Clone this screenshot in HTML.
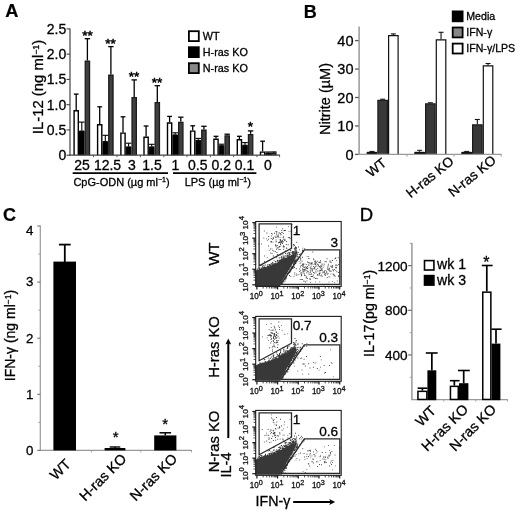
<!DOCTYPE html>
<html><head><meta charset="utf-8"><title>Figure</title>
<style>
html,body{margin:0;padding:0;background:#fff;}
body{width:520px;height:512px;overflow:hidden;font-family:"Liberation Sans",sans-serif;}
svg{display:block;filter:blur(0.35px);}
svg text{font-family:"Liberation Sans",sans-serif;}
</style></head><body>
<svg width="520" height="512" viewBox="0 0 520 512">
<rect x="0" y="0" width="520" height="512" fill="#fff"/>
<text x="5.20" y="16.80" font-size="18.2" text-anchor="start" font-weight="bold" fill="#000" stroke="#000" stroke-width="0.2">A</text>
<line x1="70.00" y1="28.40" x2="70.00" y2="155.20" stroke="#444" stroke-width="1.2" stroke-linecap="butt"/>
<line x1="66.50" y1="28.90" x2="70.00" y2="28.90" stroke="#444" stroke-width="1.1" stroke-linecap="butt"/>
<text x="66.20" y="33.80" font-size="14" text-anchor="end" font-weight="normal" fill="#000" stroke="#000" stroke-width="0.3">2.5</text>
<line x1="66.50" y1="54.16" x2="70.00" y2="54.16" stroke="#444" stroke-width="1.1" stroke-linecap="butt"/>
<text x="66.20" y="59.06" font-size="14" text-anchor="end" font-weight="normal" fill="#000" stroke="#000" stroke-width="0.3">2.0</text>
<line x1="66.50" y1="79.42" x2="70.00" y2="79.42" stroke="#444" stroke-width="1.1" stroke-linecap="butt"/>
<text x="66.20" y="84.32" font-size="14" text-anchor="end" font-weight="normal" fill="#000" stroke="#000" stroke-width="0.3">1.5</text>
<line x1="66.50" y1="104.68" x2="70.00" y2="104.68" stroke="#444" stroke-width="1.1" stroke-linecap="butt"/>
<text x="66.20" y="109.58" font-size="14" text-anchor="end" font-weight="normal" fill="#000" stroke="#000" stroke-width="0.3">1.0</text>
<line x1="66.50" y1="129.94" x2="70.00" y2="129.94" stroke="#444" stroke-width="1.1" stroke-linecap="butt"/>
<text x="66.20" y="134.84" font-size="14" text-anchor="end" font-weight="normal" fill="#000" stroke="#000" stroke-width="0.3">0.5</text>
<line x1="66.50" y1="155.20" x2="70.00" y2="155.20" stroke="#444" stroke-width="1.1" stroke-linecap="butt"/>
<text x="66.20" y="160.10" font-size="14" text-anchor="end" font-weight="normal" fill="#000" stroke="#000" stroke-width="0.3">0</text>
<text x="42.60" y="87.00" font-size="14.9" text-anchor="middle" font-weight="normal" fill="#000" stroke="#000" stroke-width="0.3" transform="rotate(-90 42.60 87.00)">IL-12 (ng ml<tspan font-size="8.8" dy="-4">−1</tspan><tspan dy="4">)</tspan></text>
<line x1="76.20" y1="110.00" x2="76.20" y2="94.10" stroke="#000" stroke-width="1.3" stroke-linecap="butt"/>
<line x1="73.80" y1="94.10" x2="78.60" y2="94.10" stroke="#000" stroke-width="1.3" stroke-linecap="butt"/>
<line x1="81.80" y1="130.50" x2="81.80" y2="122.10" stroke="#000" stroke-width="1.1" stroke-linecap="butt"/>
<line x1="79.00" y1="122.10" x2="84.60" y2="122.10" stroke="#000" stroke-width="1.1" stroke-linecap="butt"/>
<line x1="87.40" y1="60.60" x2="87.40" y2="38.70" stroke="#000" stroke-width="1.3" stroke-linecap="butt"/>
<line x1="84.70" y1="38.70" x2="90.10" y2="38.70" stroke="#000" stroke-width="1.3" stroke-linecap="butt"/>
<path d="M74.10 155.20V110.70H78.30V155.20" fill="#fff" stroke="#000" stroke-width="1.4"/>
<path d="M79.50 155.20V131.00H84.10V155.20" fill="#000" stroke="#000" stroke-width="1.0"/>
<path d="M85.25 155.20V61.25H89.55V155.20" fill="#404040" stroke="#1c1c1c" stroke-width="1.3"/>
<line x1="99.70" y1="124.00" x2="99.70" y2="106.80" stroke="#000" stroke-width="1.3" stroke-linecap="butt"/>
<line x1="97.30" y1="106.80" x2="102.10" y2="106.80" stroke="#000" stroke-width="1.3" stroke-linecap="butt"/>
<line x1="105.30" y1="141.10" x2="105.30" y2="135.30" stroke="#000" stroke-width="1.1" stroke-linecap="butt"/>
<line x1="102.50" y1="135.30" x2="108.10" y2="135.30" stroke="#000" stroke-width="1.1" stroke-linecap="butt"/>
<line x1="110.90" y1="74.60" x2="110.90" y2="46.60" stroke="#000" stroke-width="1.3" stroke-linecap="butt"/>
<line x1="108.20" y1="46.60" x2="113.60" y2="46.60" stroke="#000" stroke-width="1.3" stroke-linecap="butt"/>
<path d="M97.60 155.20V124.70H101.80V155.20" fill="#fff" stroke="#000" stroke-width="1.4"/>
<path d="M103.00 155.20V141.60H107.60V155.20" fill="#000" stroke="#000" stroke-width="1.0"/>
<path d="M108.75 155.20V75.25H113.05V155.20" fill="#404040" stroke="#1c1c1c" stroke-width="1.3"/>
<line x1="123.00" y1="132.40" x2="123.00" y2="116.80" stroke="#000" stroke-width="1.3" stroke-linecap="butt"/>
<line x1="120.60" y1="116.80" x2="125.40" y2="116.80" stroke="#000" stroke-width="1.3" stroke-linecap="butt"/>
<line x1="128.60" y1="146.40" x2="128.60" y2="143.20" stroke="#000" stroke-width="1.1" stroke-linecap="butt"/>
<line x1="125.80" y1="143.20" x2="131.40" y2="143.20" stroke="#000" stroke-width="1.1" stroke-linecap="butt"/>
<line x1="134.20" y1="97.00" x2="134.20" y2="79.90" stroke="#000" stroke-width="1.3" stroke-linecap="butt"/>
<line x1="131.50" y1="79.90" x2="136.90" y2="79.90" stroke="#000" stroke-width="1.3" stroke-linecap="butt"/>
<path d="M120.90 155.20V133.10H125.10V155.20" fill="#fff" stroke="#000" stroke-width="1.4"/>
<path d="M126.30 155.20V146.90H130.90V155.20" fill="#000" stroke="#000" stroke-width="1.0"/>
<path d="M132.05 155.20V97.65H136.35V155.20" fill="#404040" stroke="#1c1c1c" stroke-width="1.3"/>
<line x1="146.10" y1="136.60" x2="146.10" y2="126.00" stroke="#000" stroke-width="1.3" stroke-linecap="butt"/>
<line x1="143.70" y1="126.00" x2="148.50" y2="126.00" stroke="#000" stroke-width="1.3" stroke-linecap="butt"/>
<line x1="151.70" y1="146.40" x2="151.70" y2="144.30" stroke="#000" stroke-width="1.1" stroke-linecap="butt"/>
<line x1="148.90" y1="144.30" x2="154.50" y2="144.30" stroke="#000" stroke-width="1.1" stroke-linecap="butt"/>
<line x1="157.30" y1="102.00" x2="157.30" y2="85.70" stroke="#000" stroke-width="1.3" stroke-linecap="butt"/>
<line x1="154.60" y1="85.70" x2="160.00" y2="85.70" stroke="#000" stroke-width="1.3" stroke-linecap="butt"/>
<path d="M144.00 155.20V137.30H148.20V155.20" fill="#fff" stroke="#000" stroke-width="1.4"/>
<path d="M149.40 155.20V146.90H154.00V155.20" fill="#000" stroke="#000" stroke-width="1.0"/>
<path d="M155.15 155.20V102.65H159.45V155.20" fill="#404040" stroke="#1c1c1c" stroke-width="1.3"/>
<line x1="169.60" y1="122.30" x2="169.60" y2="116.40" stroke="#000" stroke-width="1.3" stroke-linecap="butt"/>
<line x1="167.20" y1="116.40" x2="172.00" y2="116.40" stroke="#000" stroke-width="1.3" stroke-linecap="butt"/>
<line x1="175.20" y1="134.40" x2="175.20" y2="132.80" stroke="#000" stroke-width="1.1" stroke-linecap="butt"/>
<line x1="172.40" y1="132.80" x2="178.00" y2="132.80" stroke="#000" stroke-width="1.1" stroke-linecap="butt"/>
<line x1="180.80" y1="121.80" x2="180.80" y2="117.20" stroke="#000" stroke-width="1.3" stroke-linecap="butt"/>
<line x1="178.10" y1="117.20" x2="183.50" y2="117.20" stroke="#000" stroke-width="1.3" stroke-linecap="butt"/>
<path d="M167.50 155.20V123.00H171.70V155.20" fill="#fff" stroke="#000" stroke-width="1.4"/>
<path d="M172.90 155.20V134.90H177.50V155.20" fill="#000" stroke="#000" stroke-width="1.0"/>
<path d="M178.65 155.20V122.45H182.95V155.20" fill="#404040" stroke="#1c1c1c" stroke-width="1.3"/>
<line x1="192.70" y1="130.40" x2="192.70" y2="125.80" stroke="#000" stroke-width="1.3" stroke-linecap="butt"/>
<line x1="190.30" y1="125.80" x2="195.10" y2="125.80" stroke="#000" stroke-width="1.3" stroke-linecap="butt"/>
<line x1="198.30" y1="139.80" x2="198.30" y2="138.40" stroke="#000" stroke-width="1.1" stroke-linecap="butt"/>
<line x1="195.50" y1="138.40" x2="201.10" y2="138.40" stroke="#000" stroke-width="1.1" stroke-linecap="butt"/>
<line x1="203.90" y1="129.60" x2="203.90" y2="126.30" stroke="#000" stroke-width="1.3" stroke-linecap="butt"/>
<line x1="201.20" y1="126.30" x2="206.60" y2="126.30" stroke="#000" stroke-width="1.3" stroke-linecap="butt"/>
<path d="M190.60 155.20V131.10H194.80V155.20" fill="#fff" stroke="#000" stroke-width="1.4"/>
<path d="M196.00 155.20V140.30H200.60V155.20" fill="#000" stroke="#000" stroke-width="1.0"/>
<path d="M201.75 155.20V130.25H206.05V155.20" fill="#404040" stroke="#1c1c1c" stroke-width="1.3"/>
<line x1="216.00" y1="138.50" x2="216.00" y2="136.30" stroke="#000" stroke-width="1.3" stroke-linecap="butt"/>
<line x1="213.60" y1="136.30" x2="218.40" y2="136.30" stroke="#000" stroke-width="1.3" stroke-linecap="butt"/>
<line x1="221.60" y1="145.20" x2="221.60" y2="144.20" stroke="#000" stroke-width="1.1" stroke-linecap="butt"/>
<line x1="218.80" y1="144.20" x2="224.40" y2="144.20" stroke="#000" stroke-width="1.1" stroke-linecap="butt"/>
<line x1="227.20" y1="135.20" x2="227.20" y2="134.20" stroke="#000" stroke-width="1.3" stroke-linecap="butt"/>
<line x1="224.50" y1="134.20" x2="229.90" y2="134.20" stroke="#000" stroke-width="1.3" stroke-linecap="butt"/>
<path d="M213.90 155.20V139.20H218.10V155.20" fill="#fff" stroke="#000" stroke-width="1.4"/>
<path d="M219.30 155.20V145.70H223.90V155.20" fill="#000" stroke="#000" stroke-width="1.0"/>
<path d="M225.05 155.20V135.85H229.35V155.20" fill="#404040" stroke="#1c1c1c" stroke-width="1.3"/>
<line x1="239.40" y1="139.00" x2="239.40" y2="136.30" stroke="#000" stroke-width="1.3" stroke-linecap="butt"/>
<line x1="237.00" y1="136.30" x2="241.80" y2="136.30" stroke="#000" stroke-width="1.3" stroke-linecap="butt"/>
<line x1="245.00" y1="144.70" x2="245.00" y2="142.60" stroke="#000" stroke-width="1.1" stroke-linecap="butt"/>
<line x1="242.20" y1="142.60" x2="247.80" y2="142.60" stroke="#000" stroke-width="1.1" stroke-linecap="butt"/>
<line x1="250.60" y1="133.90" x2="250.60" y2="130.90" stroke="#000" stroke-width="1.3" stroke-linecap="butt"/>
<line x1="247.90" y1="130.90" x2="253.30" y2="130.90" stroke="#000" stroke-width="1.3" stroke-linecap="butt"/>
<path d="M237.30 155.20V139.70H241.50V155.20" fill="#fff" stroke="#000" stroke-width="1.4"/>
<path d="M242.70 155.20V145.20H247.30V155.20" fill="#000" stroke="#000" stroke-width="1.0"/>
<path d="M248.45 155.20V134.55H252.75V155.20" fill="#404040" stroke="#1c1c1c" stroke-width="1.3"/>
<line x1="262.60" y1="151.40" x2="262.60" y2="141.20" stroke="#000" stroke-width="1.3" stroke-linecap="butt"/>
<line x1="260.20" y1="141.20" x2="265.00" y2="141.20" stroke="#000" stroke-width="1.3" stroke-linecap="butt"/>
<line x1="268.20" y1="152.60" x2="268.20" y2="152.00" stroke="#000" stroke-width="1.1" stroke-linecap="butt"/>
<line x1="265.40" y1="152.00" x2="271.00" y2="152.00" stroke="#000" stroke-width="1.1" stroke-linecap="butt"/>
<line x1="273.80" y1="152.60" x2="273.80" y2="152.00" stroke="#000" stroke-width="1.3" stroke-linecap="butt"/>
<line x1="271.10" y1="152.00" x2="276.50" y2="152.00" stroke="#000" stroke-width="1.3" stroke-linecap="butt"/>
<path d="M260.50 155.20V152.10H264.70V155.20" fill="#fff" stroke="#000" stroke-width="1.4"/>
<path d="M265.90 155.20V153.10H270.50V155.20" fill="#000" stroke="#000" stroke-width="1.0"/>
<path d="M271.65 155.20V153.25H275.95V155.20" fill="#404040" stroke="#1c1c1c" stroke-width="1.3"/>
<line x1="69.40" y1="155.20" x2="280.00" y2="155.20" stroke="#444" stroke-width="1.3" stroke-linecap="butt"/>
<line x1="93.50" y1="155.20" x2="93.50" y2="157.20" stroke="#444" stroke-width="0.9" stroke-linecap="butt"/>
<line x1="117.00" y1="155.20" x2="117.00" y2="157.20" stroke="#444" stroke-width="0.9" stroke-linecap="butt"/>
<line x1="140.40" y1="155.20" x2="140.40" y2="157.20" stroke="#444" stroke-width="0.9" stroke-linecap="butt"/>
<line x1="163.80" y1="155.20" x2="163.80" y2="157.20" stroke="#444" stroke-width="0.9" stroke-linecap="butt"/>
<line x1="187.00" y1="155.20" x2="187.00" y2="157.20" stroke="#444" stroke-width="0.9" stroke-linecap="butt"/>
<line x1="210.40" y1="155.20" x2="210.40" y2="157.20" stroke="#444" stroke-width="0.9" stroke-linecap="butt"/>
<line x1="233.60" y1="155.20" x2="233.60" y2="157.20" stroke="#444" stroke-width="0.9" stroke-linecap="butt"/>
<line x1="257.00" y1="155.20" x2="257.00" y2="157.20" stroke="#444" stroke-width="0.9" stroke-linecap="butt"/>
<line x1="279.60" y1="155.20" x2="279.60" y2="157.20" stroke="#444" stroke-width="0.9" stroke-linecap="butt"/>
<text x="87.60" y="40.00" font-size="13.6" text-anchor="middle" font-weight="normal" fill="#000" stroke="#000" stroke-width="0.5">**</text>
<text x="110.60" y="48.00" font-size="13.6" text-anchor="middle" font-weight="normal" fill="#000" stroke="#000" stroke-width="0.5">**</text>
<text x="134.00" y="80.50" font-size="13.6" text-anchor="middle" font-weight="normal" fill="#000" stroke="#000" stroke-width="0.5">**</text>
<text x="157.00" y="86.50" font-size="13.6" text-anchor="middle" font-weight="normal" fill="#000" stroke="#000" stroke-width="0.5">**</text>
<text x="250.30" y="131.00" font-size="13.6" text-anchor="middle" font-weight="normal" fill="#000" stroke="#000" stroke-width="0.5">*</text>
<text x="82.00" y="169.60" font-size="14" text-anchor="middle" font-weight="normal" fill="#000" stroke="#000" stroke-width="0.3">25</text>
<text x="107.50" y="169.60" font-size="14" text-anchor="middle" font-weight="normal" fill="#000" stroke="#000" stroke-width="0.3">12.5</text>
<text x="131.80" y="169.60" font-size="14" text-anchor="middle" font-weight="normal" fill="#000" stroke="#000" stroke-width="0.3">3</text>
<text x="152.00" y="169.60" font-size="14" text-anchor="middle" font-weight="normal" fill="#000" stroke="#000" stroke-width="0.3">1.5</text>
<text x="175.30" y="169.60" font-size="14" text-anchor="middle" font-weight="normal" fill="#000" stroke="#000" stroke-width="0.3">1</text>
<text x="197.70" y="169.60" font-size="14" text-anchor="middle" font-weight="normal" fill="#000" stroke="#000" stroke-width="0.3">0.5</text>
<text x="221.20" y="169.60" font-size="14" text-anchor="middle" font-weight="normal" fill="#000" stroke="#000" stroke-width="0.3">0.2</text>
<text x="244.50" y="169.60" font-size="14" text-anchor="middle" font-weight="normal" fill="#000" stroke="#000" stroke-width="0.3">0.1</text>
<text x="268.00" y="169.60" font-size="14" text-anchor="middle" font-weight="normal" fill="#000" stroke="#000" stroke-width="0.3">0</text>
<line x1="72.70" y1="173.20" x2="168.00" y2="173.20" stroke="#000" stroke-width="1.8" stroke-linecap="butt"/>
<line x1="173.00" y1="173.20" x2="256.40" y2="173.20" stroke="#000" stroke-width="1.8" stroke-linecap="butt"/>
<text x="121.50" y="185.80" font-size="11" text-anchor="middle" font-weight="normal" fill="#000" stroke="#000" stroke-width="0.3">CpG-ODN (µg ml<tspan font-size="7" dy="-4">−1</tspan><tspan dy="4">)</tspan></text>
<text x="217.80" y="185.80" font-size="11" text-anchor="middle" font-weight="normal" fill="#000" stroke="#000" stroke-width="0.3">LPS (µg ml<tspan font-size="7" dy="-4">−1</tspan><tspan dy="4">)</tspan></text>
<rect x="188.90" y="31.20" width="9.90" height="9.90" fill="#fff" stroke="#000" stroke-width="1.8"/>
<text x="202.80" y="40.00" font-size="10.8" text-anchor="start" font-weight="normal" fill="#000" stroke="#000" stroke-width="0.3">WT</text>
<rect x="188.90" y="47.20" width="9.90" height="9.90" fill="#000" stroke="#000" stroke-width="1.8"/>
<text x="202.80" y="56.00" font-size="10.8" text-anchor="start" font-weight="normal" fill="#000" stroke="#000" stroke-width="0.3">H-ras KO</text>
<rect x="188.90" y="63.20" width="9.90" height="9.90" fill="#888" stroke="#000" stroke-width="1.8"/>
<text x="202.80" y="72.00" font-size="10.8" text-anchor="start" font-weight="normal" fill="#000" stroke="#000" stroke-width="0.3">N-ras KO</text>
<text x="303.70" y="17.60" font-size="18" text-anchor="start" font-weight="bold" fill="#000" stroke="#000" stroke-width="0.2">B</text>
<line x1="359.10" y1="26.50" x2="359.10" y2="154.40" stroke="#999" stroke-width="1.5" stroke-linecap="butt"/>
<line x1="355.10" y1="154.40" x2="358.60" y2="154.40" stroke="#555" stroke-width="1.3" stroke-linecap="butt"/>
<text x="353.50" y="159.60" font-size="14.5" text-anchor="end" font-weight="normal" fill="#000" stroke="#000" stroke-width="0.3">0</text>
<line x1="355.10" y1="125.95" x2="358.60" y2="125.95" stroke="#555" stroke-width="1.3" stroke-linecap="butt"/>
<text x="353.50" y="131.15" font-size="14.5" text-anchor="end" font-weight="normal" fill="#000" stroke="#000" stroke-width="0.3">10</text>
<line x1="355.10" y1="97.50" x2="358.60" y2="97.50" stroke="#555" stroke-width="1.3" stroke-linecap="butt"/>
<text x="353.50" y="102.70" font-size="14.5" text-anchor="end" font-weight="normal" fill="#000" stroke="#000" stroke-width="0.3">20</text>
<line x1="355.10" y1="69.05" x2="358.60" y2="69.05" stroke="#555" stroke-width="1.3" stroke-linecap="butt"/>
<text x="353.50" y="74.25" font-size="14.5" text-anchor="end" font-weight="normal" fill="#000" stroke="#000" stroke-width="0.3">30</text>
<line x1="355.10" y1="40.60" x2="358.60" y2="40.60" stroke="#555" stroke-width="1.3" stroke-linecap="butt"/>
<text x="353.50" y="45.80" font-size="14.5" text-anchor="end" font-weight="normal" fill="#000" stroke="#000" stroke-width="0.3">40</text>
<line x1="407.00" y1="154.40" x2="407.00" y2="156.60" stroke="#999" stroke-width="1.0" stroke-linecap="butt"/>
<line x1="454.00" y1="154.40" x2="454.00" y2="156.60" stroke="#999" stroke-width="1.0" stroke-linecap="butt"/>
<line x1="501.20" y1="154.40" x2="501.20" y2="156.60" stroke="#999" stroke-width="1.0" stroke-linecap="butt"/>
<text x="330.00" y="99.00" font-size="14.5" text-anchor="middle" font-weight="normal" fill="#000" stroke="#000" stroke-width="0.3" transform="rotate(-90 330.00 99.00)">Nitrite (µM)</text>
<line x1="371.95" y1="151.80" x2="371.95" y2="151.40" stroke="#111" stroke-width="1.0" stroke-linecap="butt"/>
<line x1="369.45" y1="151.40" x2="374.45" y2="151.40" stroke="#111" stroke-width="1.0" stroke-linecap="butt"/>
<line x1="382.65" y1="99.70" x2="382.65" y2="99.20" stroke="#111" stroke-width="1.1" stroke-linecap="butt"/>
<line x1="380.15" y1="99.20" x2="385.15" y2="99.20" stroke="#111" stroke-width="1.1" stroke-linecap="butt"/>
<line x1="393.35" y1="35.10" x2="393.35" y2="33.90" stroke="#111" stroke-width="1.1" stroke-linecap="butt"/>
<line x1="390.85" y1="33.90" x2="395.85" y2="33.90" stroke="#111" stroke-width="1.1" stroke-linecap="butt"/>
<path d="M367.10 154.40V152.30H376.80V154.40" fill="#000" stroke="#000" stroke-width="1.0"/>
<path d="M377.90 154.40V100.30H387.40V154.40" fill="#383838" stroke="#1c1c1c" stroke-width="1.2"/>
<path d="M388.60 154.40V35.70H398.10V154.40" fill="#fff" stroke="#111" stroke-width="1.2"/>
<line x1="419.65" y1="151.80" x2="419.65" y2="150.30" stroke="#111" stroke-width="1.0" stroke-linecap="butt"/>
<line x1="417.15" y1="150.30" x2="422.15" y2="150.30" stroke="#111" stroke-width="1.0" stroke-linecap="butt"/>
<line x1="430.35" y1="103.20" x2="430.35" y2="102.80" stroke="#111" stroke-width="1.1" stroke-linecap="butt"/>
<line x1="427.85" y1="102.80" x2="432.85" y2="102.80" stroke="#111" stroke-width="1.1" stroke-linecap="butt"/>
<line x1="441.05" y1="39.20" x2="441.05" y2="32.30" stroke="#111" stroke-width="1.1" stroke-linecap="butt"/>
<line x1="438.55" y1="32.30" x2="443.55" y2="32.30" stroke="#111" stroke-width="1.1" stroke-linecap="butt"/>
<path d="M414.80 154.40V152.30H424.50V154.40" fill="#000" stroke="#000" stroke-width="1.0"/>
<path d="M425.60 154.40V103.80H435.10V154.40" fill="#383838" stroke="#1c1c1c" stroke-width="1.2"/>
<path d="M436.30 154.40V39.80H445.80V154.40" fill="#fff" stroke="#111" stroke-width="1.2"/>
<line x1="466.65" y1="151.80" x2="466.65" y2="151.40" stroke="#111" stroke-width="1.0" stroke-linecap="butt"/>
<line x1="464.15" y1="151.40" x2="469.15" y2="151.40" stroke="#111" stroke-width="1.0" stroke-linecap="butt"/>
<line x1="477.35" y1="124.20" x2="477.35" y2="119.50" stroke="#111" stroke-width="1.1" stroke-linecap="butt"/>
<line x1="474.85" y1="119.50" x2="479.85" y2="119.50" stroke="#111" stroke-width="1.1" stroke-linecap="butt"/>
<line x1="488.05" y1="65.30" x2="488.05" y2="63.50" stroke="#111" stroke-width="1.1" stroke-linecap="butt"/>
<line x1="485.55" y1="63.50" x2="490.55" y2="63.50" stroke="#111" stroke-width="1.1" stroke-linecap="butt"/>
<path d="M461.80 154.40V152.30H471.50V154.40" fill="#000" stroke="#000" stroke-width="1.0"/>
<path d="M472.60 154.40V124.80H482.10V154.40" fill="#383838" stroke="#1c1c1c" stroke-width="1.2"/>
<path d="M483.30 154.40V65.90H492.80V154.40" fill="#fff" stroke="#111" stroke-width="1.2"/>
<line x1="358.50" y1="154.40" x2="501.50" y2="154.40" stroke="#999" stroke-width="1.3" stroke-linecap="butt"/>
<text x="387.50" y="164.50" font-size="13.6" text-anchor="end" font-weight="normal" fill="#000" stroke="#000" stroke-width="0.3" transform="rotate(-39 387.50 164.50)">WT</text>
<text x="454.80" y="162.80" font-size="13.6" text-anchor="end" font-weight="normal" fill="#000" stroke="#000" stroke-width="0.3" transform="rotate(-39 454.80 162.80)">H-ras KO</text>
<text x="497.00" y="161.80" font-size="13.6" text-anchor="end" font-weight="normal" fill="#000" stroke="#000" stroke-width="0.3" transform="rotate(-39 497.00 161.80)">N-ras KO</text>
<rect x="452.70" y="11.40" width="9.90" height="9.90" fill="#000" stroke="#000" stroke-width="1.8"/>
<text x="466.30" y="20.20" font-size="10.6" text-anchor="start" font-weight="normal" fill="#000" stroke="#000" stroke-width="0.3">Media</text>
<rect x="452.70" y="27.50" width="9.90" height="9.90" fill="#888" stroke="#000" stroke-width="1.8"/>
<text x="466.30" y="36.30" font-size="10.6" text-anchor="start" font-weight="normal" fill="#000" stroke="#000" stroke-width="0.3">IFN-γ</text>
<rect x="452.70" y="43.60" width="9.90" height="9.90" fill="#fff" stroke="#000" stroke-width="1.8"/>
<text x="466.30" y="52.40" font-size="10.6" text-anchor="start" font-weight="normal" fill="#000" stroke="#000" stroke-width="0.3">IFN-γ/LPS</text>
<text x="3.00" y="220.90" font-size="18" text-anchor="start" font-weight="bold" fill="#000" stroke="#000" stroke-width="0.2">C</text>
<line x1="40.30" y1="225.50" x2="40.30" y2="450.40" stroke="#999" stroke-width="1.2" stroke-linecap="butt"/>
<line x1="39.70" y1="450.40" x2="191.80" y2="450.40" stroke="#999" stroke-width="1.3" stroke-linecap="butt"/>
<line x1="37.30" y1="450.40" x2="40.30" y2="450.40" stroke="#666" stroke-width="1.0" stroke-linecap="butt"/>
<text x="33.50" y="454.80" font-size="13.3" text-anchor="end" font-weight="normal" fill="#000" stroke="#000" stroke-width="0.3">0</text>
<line x1="37.30" y1="394.30" x2="40.30" y2="394.30" stroke="#666" stroke-width="1.0" stroke-linecap="butt"/>
<text x="33.50" y="398.70" font-size="13.3" text-anchor="end" font-weight="normal" fill="#000" stroke="#000" stroke-width="0.3">1</text>
<line x1="37.30" y1="338.20" x2="40.30" y2="338.20" stroke="#666" stroke-width="1.0" stroke-linecap="butt"/>
<text x="33.50" y="342.60" font-size="13.3" text-anchor="end" font-weight="normal" fill="#000" stroke="#000" stroke-width="0.3">2</text>
<line x1="37.30" y1="282.10" x2="40.30" y2="282.10" stroke="#666" stroke-width="1.0" stroke-linecap="butt"/>
<text x="33.50" y="285.70" font-size="13.3" text-anchor="end" font-weight="normal" fill="#000" stroke="#000" stroke-width="0.3">3</text>
<line x1="37.30" y1="226.00" x2="40.30" y2="226.00" stroke="#666" stroke-width="1.0" stroke-linecap="butt"/>
<text x="33.50" y="235.00" font-size="13.3" text-anchor="end" font-weight="normal" fill="#000" stroke="#000" stroke-width="0.3">4</text>
<line x1="38.30" y1="422.35" x2="40.30" y2="422.35" stroke="#999" stroke-width="0.9" stroke-linecap="butt"/>
<line x1="38.30" y1="366.25" x2="40.30" y2="366.25" stroke="#999" stroke-width="0.9" stroke-linecap="butt"/>
<line x1="38.30" y1="310.15" x2="40.30" y2="310.15" stroke="#999" stroke-width="0.9" stroke-linecap="butt"/>
<line x1="38.30" y1="254.05" x2="40.30" y2="254.05" stroke="#999" stroke-width="0.9" stroke-linecap="butt"/>
<line x1="91.50" y1="450.40" x2="91.50" y2="452.40" stroke="#999" stroke-width="0.9" stroke-linecap="butt"/>
<line x1="140.80" y1="450.40" x2="140.80" y2="452.40" stroke="#999" stroke-width="0.9" stroke-linecap="butt"/>
<line x1="191.50" y1="450.40" x2="191.50" y2="452.40" stroke="#999" stroke-width="0.9" stroke-linecap="butt"/>
<text x="15.20" y="335.50" font-size="14" text-anchor="middle" font-weight="normal" fill="#000" stroke="#000" stroke-width="0.3" transform="rotate(-90 15.20 335.50)">IFN-γ (ng ml<tspan font-size="8.5" dy="-4">−1</tspan><tspan dy="4">)</tspan></text>
<line x1="64.80" y1="262.00" x2="64.80" y2="244.60" stroke="#000" stroke-width="1.8" stroke-linecap="butt"/>
<line x1="58.90" y1="244.60" x2="70.70" y2="244.60" stroke="#000" stroke-width="1.8" stroke-linecap="butt"/>
<rect x="53.40" y="261.60" width="22.60" height="188.80" fill="#000" stroke="none" stroke-width="0"/>
<line x1="115.00" y1="448.30" x2="115.00" y2="447.00" stroke="#000" stroke-width="1.4" stroke-linecap="butt"/>
<line x1="109.70" y1="447.00" x2="120.30" y2="447.00" stroke="#000" stroke-width="1.4" stroke-linecap="butt"/>
<rect x="104.60" y="448.00" width="20.80" height="2.40" fill="#000" stroke="none" stroke-width="0"/>
<line x1="165.30" y1="435.40" x2="165.30" y2="432.80" stroke="#000" stroke-width="1.5" stroke-linecap="butt"/>
<line x1="159.50" y1="432.80" x2="171.10" y2="432.80" stroke="#000" stroke-width="1.5" stroke-linecap="butt"/>
<rect x="154.20" y="435.40" width="22.20" height="15.00" fill="#000" stroke="none" stroke-width="0"/>
<text x="115.60" y="442.00" font-size="15" text-anchor="middle" font-weight="normal" fill="#000" stroke="#000" stroke-width="0.3">*</text>
<text x="165.20" y="428.60" font-size="15" text-anchor="middle" font-weight="normal" fill="#000" stroke="#000" stroke-width="0.3">*</text>
<text x="71.60" y="465.00" font-size="14.3" text-anchor="end" font-weight="normal" fill="#000" stroke="#000" stroke-width="0.3" transform="rotate(-45 71.60 465.00)">WT</text>
<text x="127.30" y="459.60" font-size="14.3" text-anchor="end" font-weight="normal" fill="#000" stroke="#000" stroke-width="0.3" transform="rotate(-45 127.30 459.60)">H-ras KO</text>
<text x="178.00" y="459.60" font-size="14.3" text-anchor="end" font-weight="normal" fill="#000" stroke="#000" stroke-width="0.3" transform="rotate(-45 178.00 459.60)">N-ras KO</text>
<polygon points="255.7,270.5 261.7,269.1 268.7,267.1 276.7,263.5 283.7,260.1 290.7,256.5 295.7,253.9 296.9,255.0 294.2,261.0 289.2,269.5 284.7,277.0 280.3,284.5 280.3,285.9 255.7,285.9" fill="#383838"/>
<path d="M278.8 261.9h1.0v1.0h-1.0zM279.7 260.7h1.0v1.0h-1.0zM264.6 267.4h1.0v1.0h-1.0zM260.1 269.2h1.0v1.0h-1.0zM260.9 267.9h1.0v1.0h-1.0zM295.1 246.8h1.0v1.0h-1.0zM285.7 257.6h1.0v1.0h-1.0zM281.0 261.6h1.0v1.0h-1.0zM266.7 267.9h1.0v1.0h-1.0zM277.7 260.5h1.0v1.0h-1.0zM279.4 260.2h1.0v1.0h-1.0zM278.2 262.6h1.0v1.0h-1.0zM296.3 241.7h1.0v1.0h-1.0zM270.7 265.7h1.0v1.0h-1.0zM270.6 266.5h1.0v1.0h-1.0zM291.2 255.1h1.0v1.0h-1.0zM295.2 250.5h1.0v1.0h-1.0zM293.5 253.9h1.0v1.0h-1.0zM296.2 253.3h1.0v1.0h-1.0zM290.6 256.5h1.0v1.0h-1.0zM262.1 269.2h1.0v1.0h-1.0zM262.0 268.9h1.0v1.0h-1.0zM261.6 269.4h1.0v1.0h-1.0zM281.6 260.2h1.0v1.0h-1.0zM266.6 266.6h1.0v1.0h-1.0zM263.1 268.7h1.0v1.0h-1.0zM268.3 267.5h1.0v1.0h-1.0zM271.0 263.3h1.0v1.0h-1.0zM267.5 267.3h1.0v1.0h-1.0zM260.5 264.8h1.0v1.0h-1.0zM267.0 267.5h1.0v1.0h-1.0zM270.1 266.3h1.0v1.0h-1.0zM261.0 268.7h1.0v1.0h-1.0zM275.5 263.9h1.0v1.0h-1.0zM293.3 253.2h1.0v1.0h-1.0zM264.8 268.1h1.0v1.0h-1.0zM293.5 251.6h1.0v1.0h-1.0zM289.2 252.3h1.0v1.0h-1.0zM266.9 264.5h1.0v1.0h-1.0zM276.0 263.6h1.0v1.0h-1.0zM258.5 267.2h1.0v1.0h-1.0zM270.1 265.0h1.0v1.0h-1.0zM284.1 259.9h1.0v1.0h-1.0zM261.1 269.6h1.0v1.0h-1.0zM281.6 257.8h1.0v1.0h-1.0zM293.3 254.7h1.0v1.0h-1.0zM256.8 270.2h1.0v1.0h-1.0zM265.3 267.9h1.0v1.0h-1.0zM281.5 260.7h1.0v1.0h-1.0zM296.5 252.0h1.0v1.0h-1.0zM287.1 257.0h1.0v1.0h-1.0zM257.3 268.4h1.0v1.0h-1.0zM288.4 252.2h1.0v1.0h-1.0zM279.3 260.5h1.0v1.0h-1.0zM272.8 255.6h1.0v1.0h-1.0zM289.1 253.3h1.0v1.0h-1.0zM289.1 255.5h1.0v1.0h-1.0zM271.8 263.6h1.0v1.0h-1.0zM292.1 251.0h1.0v1.0h-1.0zM293.1 254.1h1.0v1.0h-1.0zM283.6 259.1h1.0v1.0h-1.0zM259.9 268.7h1.0v1.0h-1.0zM295.4 249.4h1.0v1.0h-1.0zM287.7 256.2h1.0v1.0h-1.0zM278.7 260.5h1.0v1.0h-1.0zM258.5 269.5h1.0v1.0h-1.0zM278.8 262.2h1.0v1.0h-1.0zM283.3 255.6h1.0v1.0h-1.0zM268.4 267.3h1.0v1.0h-1.0zM267.6 267.8h1.0v1.0h-1.0zM291.8 253.0h1.0v1.0h-1.0zM272.9 264.2h1.0v1.0h-1.0zM266.8 267.4h1.0v1.0h-1.0zM291.1 254.7h1.0v1.0h-1.0zM283.6 260.1h1.0v1.0h-1.0zM292.4 252.3h1.0v1.0h-1.0zM287.6 252.5h1.0v1.0h-1.0zM278.4 262.7h1.0v1.0h-1.0zM266.3 267.2h1.0v1.0h-1.0zM271.1 263.5h1.0v1.0h-1.0zM295.4 253.1h1.0v1.0h-1.0zM292.7 255.7h1.0v1.0h-1.0zM287.1 256.8h1.0v1.0h-1.0zM258.5 270.3h1.0v1.0h-1.0zM278.3 263.1h1.0v1.0h-1.0zM262.9 268.8h1.0v1.0h-1.0zM283.9 258.8h1.0v1.0h-1.0zM290.1 250.1h1.0v1.0h-1.0zM286.2 258.4h1.0v1.0h-1.0zM256.7 270.0h1.0v1.0h-1.0zM287.7 257.9h1.0v1.0h-1.0zM287.9 257.2h1.0v1.0h-1.0zM283.0 257.6h1.0v1.0h-1.0zM294.3 255.2h1.0v1.0h-1.0zM294.7 252.2h1.0v1.0h-1.0zM285.2 255.6h1.0v1.0h-1.0zM275.7 263.5h1.0v1.0h-1.0zM293.4 253.5h1.0v1.0h-1.0zM285.2 259.0h1.0v1.0h-1.0zM283.7 257.3h1.0v1.0h-1.0zM269.1 265.1h1.0v1.0h-1.0zM281.0 258.9h1.0v1.0h-1.0zM272.5 262.5h1.0v1.0h-1.0zM260.0 269.1h1.0v1.0h-1.0zM281.6 258.8h1.0v1.0h-1.0zM291.0 256.5h1.0v1.0h-1.0zM290.1 256.4h1.0v1.0h-1.0zM264.7 268.7h1.0v1.0h-1.0zM281.1 259.8h1.0v1.0h-1.0zM293.4 253.4h1.0v1.0h-1.0zM294.6 254.6h1.0v1.0h-1.0zM271.5 264.8h1.0v1.0h-1.0zM285.6 258.3h1.0v1.0h-1.0zM270.7 265.4h1.0v1.0h-1.0zM292.3 251.3h1.0v1.0h-1.0zM296.4 252.9h1.0v1.0h-1.0zM281.7 260.5h1.0v1.0h-1.0zM283.6 260.3h1.0v1.0h-1.0zM293.8 252.9h1.0v1.0h-1.0zM283.1 259.9h1.0v1.0h-1.0zM286.1 258.6h1.0v1.0h-1.0zM294.5 249.0h1.0v1.0h-1.0zM270.1 266.2h1.0v1.0h-1.0zM291.8 251.8h1.0v1.0h-1.0zM279.3 262.1h1.0v1.0h-1.0zM294.9 254.8h1.0v1.0h-1.0zM290.3 257.1h1.0v1.0h-1.0zM287.3 258.1h1.0v1.0h-1.0zM274.7 263.8h1.0v1.0h-1.0zM263.3 268.4h1.0v1.0h-1.0zM267.7 267.1h1.0v1.0h-1.0zM274.5 263.9h1.0v1.0h-1.0zM281.3 261.4h1.0v1.0h-1.0zM286.1 258.3h1.0v1.0h-1.0zM292.4 254.1h1.0v1.0h-1.0zM288.3 254.5h1.0v1.0h-1.0zM292.6 254.6h1.0v1.0h-1.0zM268.8 259.9h1.0v1.0h-1.0zM293.1 255.3h1.0v1.0h-1.0zM270.3 267.1h1.0v1.0h-1.0zM291.7 255.2h1.0v1.0h-1.0zM275.5 262.4h1.0v1.0h-1.0zM293.3 254.3h1.0v1.0h-1.0zM278.8 259.8h1.0v1.0h-1.0zM265.8 268.1h1.0v1.0h-1.0zM260.8 269.4h1.0v1.0h-1.0zM282.1 260.7h1.0v1.0h-1.0zM266.9 268.0h1.0v1.0h-1.0zM291.9 254.9h1.0v1.0h-1.0zM258.3 267.0h1.0v1.0h-1.0zM272.6 264.9h1.0v1.0h-1.0zM280.3 261.1h1.0v1.0h-1.0zM287.2 255.0h1.0v1.0h-1.0zM265.4 267.6h1.0v1.0h-1.0zM265.2 267.9h1.0v1.0h-1.0zM281.4 262.0h1.0v1.0h-1.0zM286.5 254.7h1.0v1.0h-1.0zM283.9 258.9h1.0v1.0h-1.0zM294.7 250.7h1.0v1.0h-1.0zM268.9 264.1h1.0v1.0h-1.0zM289.8 255.5h1.0v1.0h-1.0zM292.7 250.9h1.0v1.0h-1.0zM288.3 256.3h1.0v1.0h-1.0zM287.6 258.0h1.0v1.0h-1.0zM257.4 270.2h1.0v1.0h-1.0zM285.3 257.9h1.0v1.0h-1.0zM288.0 258.4h1.0v1.0h-1.0zM285.0 257.7h1.0v1.0h-1.0zM295.5 251.8h1.0v1.0h-1.0zM287.5 255.8h1.0v1.0h-1.0zM284.2 257.7h1.0v1.0h-1.0zM269.4 266.7h1.0v1.0h-1.0zM274.8 264.6h1.0v1.0h-1.0zM267.7 264.4h1.0v1.0h-1.0zM294.6 252.7h1.0v1.0h-1.0zM295.7 251.9h1.0v1.0h-1.0zM283.2 257.9h1.0v1.0h-1.0zM259.2 267.6h1.0v1.0h-1.0zM265.6 267.7h1.0v1.0h-1.0zM284.8 260.1h1.0v1.0h-1.0zM280.6 260.2h1.0v1.0h-1.0zM273.6 264.4h1.0v1.0h-1.0zM269.4 265.0h1.0v1.0h-1.0zM270.8 266.4h1.0v1.0h-1.0zM264.5 267.1h1.0v1.0h-1.0zM275.3 261.0h1.0v1.0h-1.0zM295.2 247.7h1.0v1.0h-1.0zM259.3 267.4h1.0v1.0h-1.0zM295.4 253.9h1.0v1.0h-1.0zM280.6 257.2h1.0v1.0h-1.0zM294.3 250.6h1.0v1.0h-1.0zM283.1 260.2h1.0v1.0h-1.0zM265.8 268.0h1.0v1.0h-1.0zM279.8 261.5h1.0v1.0h-1.0zM278.5 262.6h1.0v1.0h-1.0zM283.1 259.8h1.0v1.0h-1.0zM294.7 247.2h1.0v1.0h-1.0zM289.8 257.4h1.0v1.0h-1.0zM291.4 255.0h1.0v1.0h-1.0zM273.4 264.6h1.0v1.0h-1.0zM282.4 258.8h1.0v1.0h-1.0zM289.2 257.2h1.0v1.0h-1.0zM295.9 250.6h1.0v1.0h-1.0zM258.3 270.1h1.0v1.0h-1.0zM285.3 259.8h1.0v1.0h-1.0zM282.4 261.4h1.0v1.0h-1.0zM282.4 259.6h1.0v1.0h-1.0zM274.7 263.8h1.0v1.0h-1.0zM289.6 254.1h1.0v1.0h-1.0zM260.6 269.6h1.0v1.0h-1.0zM288.7 256.8h1.0v1.0h-1.0zM277.1 263.3h1.0v1.0h-1.0zM284.9 251.0h1.0v1.0h-1.0zM272.2 264.7h1.0v1.0h-1.0zM275.2 262.9h1.0v1.0h-1.0zM261.6 267.4h1.0v1.0h-1.0zM282.4 259.9h1.0v1.0h-1.0zM286.8 258.2h1.0v1.0h-1.0zM266.6 266.6h1.0v1.0h-1.0zM260.4 269.3h1.0v1.0h-1.0zM269.0 266.5h1.0v1.0h-1.0zM273.5 263.2h1.0v1.0h-1.0zM287.9 256.8h1.0v1.0h-1.0zM294.5 249.0h1.0v1.0h-1.0zM290.4 256.0h1.0v1.0h-1.0zM273.4 265.3h1.0v1.0h-1.0zM267.8 266.9h1.0v1.0h-1.0zM273.5 264.3h1.0v1.0h-1.0zM266.5 267.2h1.0v1.0h-1.0zM291.3 255.2h1.0v1.0h-1.0zM264.3 266.7h1.0v1.0h-1.0zM293.8 255.0h1.0v1.0h-1.0zM281.6 260.0h1.0v1.0h-1.0zM295.0 252.2h1.0v1.0h-1.0zM281.3 258.7h1.0v1.0h-1.0zM260.5 269.6h1.0v1.0h-1.0zM259.0 268.6h1.0v1.0h-1.0zM263.2 267.3h1.0v1.0h-1.0zM266.7 266.0h1.0v1.0h-1.0zM280.1 259.4h1.0v1.0h-1.0zM295.4 252.1h1.0v1.0h-1.0zM279.3 261.1h1.0v1.0h-1.0zM292.4 254.1h1.0v1.0h-1.0zM292.3 254.1h1.0v1.0h-1.0zM290.5 251.7h1.0v1.0h-1.0zM293.4 252.4h1.0v1.0h-1.0zM290.7 255.6h1.0v1.0h-1.0zM276.6 263.6h1.0v1.0h-1.0zM272.2 264.5h1.0v1.0h-1.0zM265.9 267.4h1.0v1.0h-1.0zM261.5 269.6h1.0v1.0h-1.0zM262.2 268.2h1.0v1.0h-1.0zM259.1 269.3h1.0v1.0h-1.0zM283.4 256.5h1.0v1.0h-1.0zM265.7 268.0h1.0v1.0h-1.0zM267.4 266.0h1.0v1.0h-1.0zM265.3 267.9h1.0v1.0h-1.0zM264.6 266.8h1.0v1.0h-1.0zM292.2 255.2h1.0v1.0h-1.0zM269.7 264.4h1.0v1.0h-1.0zM281.3 256.0h1.0v1.0h-1.0zM281.0 262.2h1.0v1.0h-1.0zM291.4 255.7h1.0v1.0h-1.0zM280.5 260.5h1.0v1.0h-1.0zM288.1 258.8h1.0v1.0h-1.0zM288.8 256.5h1.0v1.0h-1.0zM264.0 268.5h1.0v1.0h-1.0zM293.1 254.3h1.0v1.0h-1.0zM284.9 250.6h1.0v1.0h-1.0zM264.9 267.1h1.0v1.0h-1.0zM256.7 269.4h1.0v1.0h-1.0zM259.4 269.3h1.0v1.0h-1.0zM287.0 258.1h1.0v1.0h-1.0zM294.7 252.8h1.0v1.0h-1.0zM292.4 255.2h1.0v1.0h-1.0zM292.9 255.0h1.0v1.0h-1.0zM290.5 255.9h1.0v1.0h-1.0zM264.0 266.6h1.0v1.0h-1.0zM272.2 265.6h1.0v1.0h-1.0zM278.9 260.9h1.0v1.0h-1.0zM274.5 263.4h1.0v1.0h-1.0zM278.8 257.5h1.0v1.0h-1.0zM292.3 254.1h1.0v1.0h-1.0zM287.7 257.9h1.0v1.0h-1.0zM284.7 260.0h1.0v1.0h-1.0zM290.9 256.3h1.0v1.0h-1.0zM283.5 259.5h1.0v1.0h-1.0zM271.6 265.8h1.0v1.0h-1.0zM275.4 262.7h1.0v1.0h-1.0zM288.9 257.2h1.0v1.0h-1.0zM294.3 253.0h1.0v1.0h-1.0zM290.8 256.2h1.0v1.0h-1.0zM262.9 268.8h1.0v1.0h-1.0zM264.2 267.8h1.0v1.0h-1.0zM292.2 254.4h1.0v1.0h-1.0zM264.6 268.5h1.0v1.0h-1.0zM276.8 264.0h1.0v1.0h-1.0zM279.9 260.3h1.0v1.0h-1.0zM289.1 253.9h1.0v1.0h-1.0zM276.8 263.9h1.0v1.0h-1.0zM277.2 262.4h1.0v1.0h-1.0zM285.7 257.5h1.0v1.0h-1.0zM256.5 270.1h1.0v1.0h-1.0zM262.7 268.9h1.0v1.0h-1.0zM280.7 259.5h1.0v1.0h-1.0zM263.3 267.0h1.0v1.0h-1.0zM292.8 253.7h1.0v1.0h-1.0zM264.3 267.5h1.0v1.0h-1.0zM295.1 252.7h1.0v1.0h-1.0zM264.7 264.6h1.0v1.0h-1.0zM285.1 259.5h1.0v1.0h-1.0zM283.0 258.8h1.0v1.0h-1.0zM271.9 262.0h1.0v1.0h-1.0zM263.3 265.2h1.0v1.0h-1.0zM262.2 266.4h1.0v1.0h-1.0zM281.8 260.6h1.0v1.0h-1.0zM294.0 244.7h1.0v1.0h-1.0zM261.5 267.3h1.0v1.0h-1.0zM270.5 263.5h1.0v1.0h-1.0zM292.6 255.9h1.0v1.0h-1.0zM282.1 261.3h1.0v1.0h-1.0zM295.5 248.0h1.0v1.0h-1.0zM285.1 258.7h1.0v1.0h-1.0zM273.8 263.3h1.0v1.0h-1.0zM291.2 256.7h1.0v1.0h-1.0zM264.4 268.3h1.0v1.0h-1.0zM281.8 260.7h1.0v1.0h-1.0zM282.3 260.3h1.0v1.0h-1.0zM284.9 259.6h1.0v1.0h-1.0zM294.3 252.6h1.0v1.0h-1.0zM277.8 262.0h1.0v1.0h-1.0zM288.5 254.7h1.0v1.0h-1.0zM280.1 254.0h1.0v1.0h-1.0zM274.8 263.2h1.0v1.0h-1.0zM281.4 256.9h1.0v1.0h-1.0zM277.0 259.9h1.0v1.0h-1.0zM271.8 265.8h1.0v1.0h-1.0zM286.7 256.2h1.0v1.0h-1.0zM288.9 256.9h1.0v1.0h-1.0zM262.5 268.5h1.0v1.0h-1.0zM281.1 261.4h1.0v1.0h-1.0zM281.2 261.3h1.0v1.0h-1.0zM271.4 265.5h1.0v1.0h-1.0zM293.9 247.9h1.0v1.0h-1.0zM284.8 255.4h1.0v1.0h-1.0zM268.0 266.1h1.0v1.0h-1.0zM283.5 257.0h1.0v1.0h-1.0zM263.4 268.3h1.0v1.0h-1.0zM294.5 254.8h1.0v1.0h-1.0zM272.9 265.7h1.0v1.0h-1.0zM292.6 251.9h1.0v1.0h-1.0zM283.5 260.6h1.0v1.0h-1.0zM257.6 268.2h1.0v1.0h-1.0zM295.0 246.6h1.0v1.0h-1.0zM278.3 262.4h1.0v1.0h-1.0zM294.9 255.0h1.0v1.0h-1.0zM291.3 255.3h1.0v1.0h-1.0zM292.9 244.1h1.0v1.0h-1.0zM267.0 266.8h1.0v1.0h-1.0zM260.5 269.9h1.0v1.0h-1.0zM289.5 257.3h1.0v1.0h-1.0zM286.8 258.0h1.0v1.0h-1.0zM286.8 253.3h1.0v1.0h-1.0zM267.5 267.3h1.0v1.0h-1.0zM287.9 257.9h1.0v1.0h-1.0zM286.5 256.3h1.0v1.0h-1.0zM275.3 263.2h1.0v1.0h-1.0zM266.9 267.3h1.0v1.0h-1.0zM293.7 252.7h1.0v1.0h-1.0zM262.1 265.4h1.0v1.0h-1.0zM277.3 262.2h1.0v1.0h-1.0zM283.6 259.8h1.0v1.0h-1.0zM269.2 265.3h1.0v1.0h-1.0zM289.6 257.0h1.0v1.0h-1.0zM270.7 265.8h1.0v1.0h-1.0zM297.0 254.3h1.0v1.0h-1.0zM277.0 260.8h1.0v1.0h-1.0zM281.0 262.0h1.0v1.0h-1.0zM288.9 270.4h1.0v1.0h-1.0zM284.5 278.9h1.0v1.0h-1.0zM290.7 269.3h1.0v1.0h-1.0zM281.0 282.2h1.0v1.0h-1.0zM284.1 277.4h1.0v1.0h-1.0zM291.6 267.1h1.0v1.0h-1.0zM285.3 278.2h1.0v1.0h-1.0zM295.1 261.2h1.0v1.0h-1.0zM289.0 268.4h1.0v1.0h-1.0zM289.7 271.0h1.0v1.0h-1.0zM294.8 260.3h1.0v1.0h-1.0zM290.8 267.4h1.0v1.0h-1.0zM295.2 263.0h1.0v1.0h-1.0zM288.4 272.3h1.0v1.0h-1.0zM283.9 278.7h1.0v1.0h-1.0zM296.5 256.6h1.0v1.0h-1.0zM287.5 273.0h1.0v1.0h-1.0zM297.4 258.2h1.0v1.0h-1.0zM295.0 259.8h1.0v1.0h-1.0zM284.5 280.5h1.0v1.0h-1.0zM296.5 256.1h1.0v1.0h-1.0zM280.6 284.0h1.0v1.0h-1.0zM290.5 269.6h1.0v1.0h-1.0zM291.2 267.9h1.0v1.0h-1.0zM296.5 256.3h1.0v1.0h-1.0zM291.4 265.6h1.0v1.0h-1.0zM290.5 269.5h1.0v1.0h-1.0zM285.5 278.0h1.0v1.0h-1.0zM294.4 260.0h1.0v1.0h-1.0zM292.4 268.0h1.0v1.0h-1.0zM292.0 266.0h1.0v1.0h-1.0zM296.7 255.8h1.0v1.0h-1.0zM286.3 273.3h1.0v1.0h-1.0zM283.3 281.5h1.0v1.0h-1.0zM282.6 279.9h1.0v1.0h-1.0zM292.8 266.4h1.0v1.0h-1.0zM294.7 260.6h1.0v1.0h-1.0zM295.1 259.9h1.0v1.0h-1.0zM294.9 259.8h1.0v1.0h-1.0zM282.6 280.2h1.0v1.0h-1.0zM285.9 275.4h1.0v1.0h-1.0zM293.4 262.1h1.0v1.0h-1.0zM293.6 266.4h1.0v1.0h-1.0zM285.3 275.7h1.0v1.0h-1.0zM281.6 283.0h1.0v1.0h-1.0zM285.4 277.6h1.0v1.0h-1.0zM292.9 263.4h1.0v1.0h-1.0zM297.8 256.4h1.0v1.0h-1.0zM288.6 271.3h1.0v1.0h-1.0zM291.3 266.3h1.0v1.0h-1.0zM287.2 272.5h1.0v1.0h-1.0zM293.2 262.7h1.0v1.0h-1.0zM285.5 275.6h1.0v1.0h-1.0zM285.9 276.6h1.0v1.0h-1.0zM294.5 262.5h1.0v1.0h-1.0zM291.3 266.7h1.0v1.0h-1.0zM293.5 262.0h1.0v1.0h-1.0zM294.3 261.3h1.0v1.0h-1.0zM289.4 271.7h1.0v1.0h-1.0zM280.8 282.9h1.0v1.0h-1.0zM295.4 258.6h1.0v1.0h-1.0zM289.0 274.9h1.0v1.0h-1.0zM286.6 273.0h1.0v1.0h-1.0zM290.8 267.8h1.0v1.0h-1.0zM293.0 263.9h1.0v1.0h-1.0zM293.5 261.3h1.0v1.0h-1.0zM295.9 259.5h1.0v1.0h-1.0zM294.1 260.3h1.0v1.0h-1.0zM295.8 259.3h1.0v1.0h-1.0zM298.0 246.6h0.9v0.9h-0.9zM299.0 249.4h0.9v0.9h-0.9zM296.8 251.7h0.9v0.9h-0.9zM302.2 251.1h0.9v0.9h-0.9zM302.7 251.1h0.9v0.9h-0.9zM296.1 248.4h0.9v0.9h-0.9zM298.1 251.9h0.9v0.9h-0.9zM302.1 250.4h0.9v0.9h-0.9zM302.4 247.7h0.9v0.9h-0.9zM298.8 254.1h0.9v0.9h-0.9zM300.6 252.9h0.9v0.9h-0.9zM293.2 245.4h0.9v0.9h-0.9zM296.5 252.8h0.9v0.9h-0.9zM304.3 248.3h0.9v0.9h-0.9zM296.1 247.2h0.9v0.9h-0.9zM296.4 251.5h0.9v0.9h-0.9zM276.9 254.0h0.9v0.9h-0.9zM283.0 236.3h0.9v0.9h-0.9zM280.1 240.0h0.9v0.9h-0.9zM283.4 247.3h0.9v0.9h-0.9zM276.7 247.2h0.9v0.9h-0.9zM282.1 240.4h0.9v0.9h-0.9zM280.2 245.7h0.9v0.9h-0.9zM276.8 236.4h0.9v0.9h-0.9zM286.2 241.1h0.9v0.9h-0.9zM275.2 244.2h0.9v0.9h-0.9zM270.0 241.4h0.9v0.9h-0.9zM270.7 238.1h0.9v0.9h-0.9zM268.2 236.1h0.9v0.9h-0.9zM284.0 239.8h0.9v0.9h-0.9zM271.6 253.0h0.9v0.9h-0.9zM275.0 251.2h0.9v0.9h-0.9zM275.6 231.0h0.9v0.9h-0.9zM289.6 238.1h0.9v0.9h-0.9zM283.2 249.2h0.9v0.9h-0.9zM271.0 241.5h0.9v0.9h-0.9zM275.3 245.2h0.9v0.9h-0.9zM278.7 232.3h0.9v0.9h-0.9zM279.1 246.3h0.9v0.9h-0.9zM277.0 244.9h0.9v0.9h-0.9zM275.6 240.7h0.9v0.9h-0.9zM280.8 242.0h0.9v0.9h-0.9zM286.2 247.6h0.9v0.9h-0.9zM283.7 246.0h0.9v0.9h-0.9zM279.7 233.1h0.9v0.9h-0.9zM285.0 253.0h0.9v0.9h-0.9zM280.1 239.3h0.9v0.9h-0.9zM278.5 249.3h0.9v0.9h-0.9zM280.4 234.3h0.9v0.9h-0.9zM277.7 235.8h0.9v0.9h-0.9zM277.6 234.9h0.9v0.9h-0.9zM273.6 251.2h0.9v0.9h-0.9zM284.9 230.0h0.9v0.9h-0.9zM273.0 238.0h0.9v0.9h-0.9zM276.5 231.6h0.9v0.9h-0.9zM284.0 230.0h0.9v0.9h-0.9zM282.8 245.8h0.9v0.9h-0.9zM276.6 236.6h0.9v0.9h-0.9zM279.1 242.1h0.9v0.9h-0.9zM266.4 232.5h0.9v0.9h-0.9zM281.9 240.3h0.9v0.9h-0.9zM276.3 234.3h0.9v0.9h-0.9zM274.6 235.8h0.9v0.9h-0.9zM295.1 232.5h0.9v0.9h-0.9zM287.7 244.3h0.9v0.9h-0.9zM280.0 242.4h0.9v0.9h-0.9zM276.5 252.1h0.9v0.9h-0.9zM281.7 240.9h0.9v0.9h-0.9zM278.0 242.4h0.9v0.9h-0.9zM272.1 238.9h0.9v0.9h-0.9zM275.1 245.3h0.9v0.9h-0.9zM282.3 228.3h0.9v0.9h-0.9zM277.4 247.8h0.9v0.9h-0.9zM271.2 233.0h0.9v0.9h-0.9zM284.6 240.2h0.9v0.9h-0.9zM276.1 232.7h0.9v0.9h-0.9zM279.7 237.2h0.9v0.9h-0.9zM280.0 244.0h0.9v0.9h-0.9zM282.9 238.8h0.9v0.9h-0.9zM275.7 241.3h0.9v0.9h-0.9zM278.2 242.2h0.9v0.9h-0.9zM275.6 239.4h0.9v0.9h-0.9zM275.3 237.0h0.9v0.9h-0.9zM279.7 249.0h0.9v0.9h-0.9zM275.6 245.1h0.9v0.9h-0.9zM280.8 241.8h0.9v0.9h-0.9zM282.7 237.2h0.9v0.9h-0.9zM282.1 243.1h0.9v0.9h-0.9zM258.3 243.5h0.9v0.9h-0.9zM282.3 254.4h0.9v0.9h-0.9zM272.5 241.7h0.9v0.9h-0.9zM280.8 234.4h0.9v0.9h-0.9zM285.8 244.1h0.9v0.9h-0.9zM274.1 232.8h0.9v0.9h-0.9zM276.3 257.3h0.9v0.9h-0.9zM291.4 224.1h0.9v0.9h-0.9zM268.1 245.6h0.9v0.9h-0.9zM278.1 236.7h0.9v0.9h-0.9zM282.3 241.7h0.9v0.9h-0.9zM280.4 242.9h0.9v0.9h-0.9zM272.4 250.1h0.9v0.9h-0.9zM276.0 248.8h0.9v0.9h-0.9zM282.8 241.3h0.9v0.9h-0.9zM279.6 240.7h0.9v0.9h-0.9zM267.9 238.8h0.9v0.9h-0.9zM281.3 230.0h0.9v0.9h-0.9zM270.0 248.5h0.9v0.9h-0.9zM283.5 230.4h0.9v0.9h-0.9zM281.5 240.7h0.9v0.9h-0.9zM284.5 238.8h0.9v0.9h-0.9zM277.4 235.9h0.9v0.9h-0.9zM288.0 226.3h0.8v0.8h-0.8zM278.0 233.7h0.8v0.8h-0.8zM272.4 238.8h0.8v0.8h-0.8zM280.4 254.7h0.8v0.8h-0.8zM271.6 248.5h0.8v0.8h-0.8zM271.3 235.6h0.8v0.8h-0.8zM287.9 237.1h0.8v0.8h-0.8zM263.5 237.6h0.8v0.8h-0.8zM282.9 233.1h0.8v0.8h-0.8zM283.0 245.2h0.8v0.8h-0.8zM281.1 231.9h0.8v0.8h-0.8zM263.9 230.6h0.8v0.8h-0.8zM271.2 241.0h0.8v0.8h-0.8zM261.0 243.6h0.8v0.8h-0.8zM272.8 237.1h0.8v0.8h-0.8zM276.8 259.8h0.8v0.8h-0.8zM266.8 257.2h0.8v0.8h-0.8zM270.3 252.6h0.8v0.8h-0.8zM264.0 261.1h0.8v0.8h-0.8zM273.6 260.2h0.8v0.8h-0.8zM267.3 240.2h0.8v0.8h-0.8zM281.9 231.9h0.8v0.8h-0.8zM268.9 249.9h0.8v0.8h-0.8zM289.1 237.1h0.8v0.8h-0.8zM266.2 238.4h0.8v0.8h-0.8zM290.4 230.8h0.8v0.8h-0.8zM279.7 239.1h0.8v0.8h-0.8zM280.0 233.1h0.8v0.8h-0.8zM279.2 257.5h0.8v0.8h-0.8zM286.4 248.1h0.8v0.8h-0.8zM275.8 245.9h0.8v0.8h-0.8zM264.1 255.6h0.8v0.8h-0.8zM281.4 241.8h0.8v0.8h-0.8zM280.7 240.6h0.8v0.8h-0.8zM272.2 233.8h0.8v0.8h-0.8zM278.7 246.1h0.8v0.8h-0.8zM276.2 226.7h0.8v0.8h-0.8zM279.5 241.6h0.8v0.8h-0.8zM278.5 246.9h0.8v0.8h-0.8zM288.6 231.0h0.8v0.8h-0.8zM274.8 261.2h0.8v0.8h-0.8zM282.8 236.8h0.8v0.8h-0.8zM312.4 251.5h0.9v0.9h-0.9zM294.4 274.4h0.9v0.9h-0.9zM306.2 268.2h0.9v0.9h-0.9zM325.8 261.3h0.9v0.9h-0.9zM338.3 264.1h0.9v0.9h-0.9zM320.3 261.7h0.9v0.9h-0.9zM320.5 267.9h0.9v0.9h-0.9zM329.7 261.7h0.9v0.9h-0.9zM315.6 278.0h0.9v0.9h-0.9zM300.2 269.9h0.9v0.9h-0.9zM321.4 265.3h0.9v0.9h-0.9zM312.2 275.8h0.9v0.9h-0.9zM330.5 271.1h0.9v0.9h-0.9zM319.2 261.8h0.9v0.9h-0.9zM316.9 277.9h0.9v0.9h-0.9zM329.4 260.5h0.9v0.9h-0.9zM288.8 264.4h0.9v0.9h-0.9zM317.9 265.0h0.9v0.9h-0.9zM311.7 269.9h0.9v0.9h-0.9zM327.4 269.2h0.9v0.9h-0.9zM332.0 260.2h0.9v0.9h-0.9zM321.8 270.3h0.9v0.9h-0.9zM296.4 274.9h0.9v0.9h-0.9zM294.9 260.0h0.9v0.9h-0.9zM320.6 275.5h0.9v0.9h-0.9zM330.7 261.8h0.9v0.9h-0.9zM322.0 275.7h0.9v0.9h-0.9zM313.6 268.4h0.9v0.9h-0.9zM309.7 272.0h0.9v0.9h-0.9zM308.5 264.8h0.9v0.9h-0.9zM299.7 262.9h0.9v0.9h-0.9zM318.6 270.6h0.9v0.9h-0.9zM310.7 262.2h0.9v0.9h-0.9zM320.1 270.0h0.9v0.9h-0.9zM332.3 265.3h0.9v0.9h-0.9zM310.3 270.8h0.9v0.9h-0.9zM335.6 267.7h0.9v0.9h-0.9zM314.6 262.8h0.9v0.9h-0.9zM310.8 273.2h0.9v0.9h-0.9zM326.8 274.2h0.9v0.9h-0.9zM294.3 272.6h0.9v0.9h-0.9zM303.6 271.3h0.9v0.9h-0.9zM284.7 267.5h0.9v0.9h-0.9zM304.2 275.1h0.9v0.9h-0.9zM317.3 275.2h0.9v0.9h-0.9zM310.0 278.9h0.9v0.9h-0.9zM309.9 278.5h0.9v0.9h-0.9zM309.3 262.6h0.9v0.9h-0.9zM327.5 265.8h0.9v0.9h-0.9zM315.0 260.5h0.9v0.9h-0.9zM311.2 268.6h0.9v0.9h-0.9zM306.5 270.2h0.9v0.9h-0.9zM285.6 273.0h0.9v0.9h-0.9zM310.4 276.2h0.9v0.9h-0.9zM311.1 264.4h0.9v0.9h-0.9zM309.8 269.5h0.9v0.9h-0.9zM323.5 265.4h0.9v0.9h-0.9zM305.3 270.4h0.9v0.9h-0.9zM326.6 258.3h0.9v0.9h-0.9zM301.9 264.3h0.9v0.9h-0.9zM338.2 274.9h0.9v0.9h-0.9zM326.2 270.8h0.9v0.9h-0.9zM301.0 274.3h0.9v0.9h-0.9zM309.9 263.6h0.9v0.9h-0.9zM333.9 269.1h0.9v0.9h-0.9zM303.6 269.0h0.9v0.9h-0.9zM304.6 269.1h0.9v0.9h-0.9zM307.2 261.4h0.9v0.9h-0.9zM328.7 267.7h0.9v0.9h-0.9zM324.6 261.0h0.9v0.9h-0.9zM302.0 249.8h0.9v0.9h-0.9zM328.9 270.5h0.9v0.9h-0.9zM300.2 272.7h0.9v0.9h-0.9zM323.5 284.3h0.9v0.9h-0.9zM318.9 273.1h0.9v0.9h-0.9zM323.8 272.3h0.9v0.9h-0.9zM315.4 265.7h0.9v0.9h-0.9zM325.1 274.9h0.9v0.9h-0.9zM300.4 261.7h0.9v0.9h-0.9zM315.2 278.0h0.9v0.9h-0.9zM313.0 258.6h0.9v0.9h-0.9zM326.4 272.2h0.9v0.9h-0.9zM327.7 268.8h0.9v0.9h-0.9zM300.0 266.5h0.9v0.9h-0.9zM333.3 274.2h0.9v0.9h-0.9zM310.8 274.2h0.9v0.9h-0.9zM327.6 273.0h0.9v0.9h-0.9zM319.5 269.7h0.9v0.9h-0.9zM304.9 267.6h0.9v0.9h-0.9zM317.4 263.9h0.9v0.9h-0.9zM312.0 268.9h0.9v0.9h-0.9zM318.6 273.9h0.9v0.9h-0.9zM302.2 265.8h0.9v0.9h-0.9zM319.3 265.9h0.9v0.9h-0.9zM320.1 265.4h0.9v0.9h-0.9zM331.3 266.8h0.9v0.9h-0.9zM300.8 272.2h0.9v0.9h-0.9zM337.7 257.3h0.9v0.9h-0.9zM314.1 268.4h0.9v0.9h-0.9zM329.4 276.4h0.9v0.9h-0.9zM313.7 259.4h0.9v0.9h-0.9zM324.6 273.6h0.9v0.9h-0.9zM321.9 268.5h0.9v0.9h-0.9zM305.1 281.6h0.9v0.9h-0.9zM300.0 259.7h0.9v0.9h-0.9zM328.6 269.6h0.9v0.9h-0.9zM324.6 270.0h0.9v0.9h-0.9zM337.9 276.0h0.9v0.9h-0.9zM308.5 273.6h0.9v0.9h-0.9zM300.3 258.5h0.9v0.9h-0.9zM331.6 265.6h0.9v0.9h-0.9zM287.6 267.9h0.9v0.9h-0.9zM307.1 270.9h0.9v0.9h-0.9zM315.0 263.8h0.9v0.9h-0.9zM306.4 272.3h0.9v0.9h-0.9zM303.6 268.8h0.9v0.9h-0.9zM302.8 270.5h0.9v0.9h-0.9zM339.2 271.2h0.9v0.9h-0.9zM330.4 270.5h0.9v0.9h-0.9zM303.1 266.4h0.9v0.9h-0.9zM316.7 270.5h0.9v0.9h-0.9zM307.9 271.4h0.9v0.9h-0.9zM306.3 268.4h0.9v0.9h-0.9zM315.6 261.6h0.9v0.9h-0.9zM329.0 268.3h0.9v0.9h-0.9zM317.2 267.9h0.9v0.9h-0.9zM288.1 260.3h0.9v0.9h-0.9zM304.0 273.6h0.9v0.9h-0.9zM308.2 271.4h0.9v0.9h-0.9zM302.3 263.4h0.9v0.9h-0.9zM309.6 273.9h0.9v0.9h-0.9zM294.0 267.1h0.9v0.9h-0.9zM321.1 268.8h0.9v0.9h-0.9zM315.6 272.4h0.9v0.9h-0.9zM319.6 262.4h0.9v0.9h-0.9zM324.1 263.7h0.9v0.9h-0.9zM311.3 276.1h0.9v0.9h-0.9zM321.4 263.7h0.9v0.9h-0.9zM305.8 277.3h0.9v0.9h-0.9zM320.1 260.3h0.9v0.9h-0.9zM336.4 271.3h0.9v0.9h-0.9zM333.1 270.3h0.9v0.9h-0.9zM287.5 264.0h0.9v0.9h-0.9zM313.9 267.1h0.9v0.9h-0.9zM335.6 264.3h0.9v0.9h-0.9zM314.5 267.7h0.9v0.9h-0.9zM314.6 262.3h0.9v0.9h-0.9zM299.7 253.7h0.9v0.9h-0.9zM320.1 266.9h0.9v0.9h-0.9zM318.4 262.2h0.9v0.9h-0.9zM315.8 262.6h0.9v0.9h-0.9zM302.5 269.9h0.9v0.9h-0.9zM324.1 271.3h0.9v0.9h-0.9zM315.2 265.9h0.9v0.9h-0.9zM334.1 274.9h0.9v0.9h-0.9zM307.5 262.0h0.9v0.9h-0.9zM320.6 269.8h0.9v0.9h-0.9zM303.8 280.7h0.9v0.9h-0.9zM288.4 263.4h0.9v0.9h-0.9zM319.0 273.5h0.9v0.9h-0.9zM291.5 265.6h0.9v0.9h-0.9zM334.6 275.8h0.9v0.9h-0.9zM312.5 268.2h0.9v0.9h-0.9zM304.2 270.2h0.9v0.9h-0.9zM302.0 256.8h0.9v0.9h-0.9zM295.8 268.3h0.9v0.9h-0.9zM298.5 274.2h0.9v0.9h-0.9zM332.6 273.6h0.9v0.9h-0.9zM324.3 274.3h0.9v0.9h-0.9zM319.3 272.8h0.9v0.9h-0.9zM321.9 272.4h0.9v0.9h-0.9zM302.5 264.4h0.9v0.9h-0.9zM302.7 272.6h0.9v0.9h-0.9zM322.4 263.7h0.9v0.9h-0.9zM302.8 264.8h0.9v0.9h-0.9zM327.2 267.4h0.9v0.9h-0.9zM312.6 264.2h0.9v0.9h-0.9zM314.2 276.9h0.9v0.9h-0.9zM306.8 266.1h0.9v0.9h-0.9zM338.0 272.0h0.9v0.9h-0.9zM300.9 274.1h0.9v0.9h-0.9zM299.3 271.1h0.9v0.9h-0.9zM282.7 262.5h0.9v0.9h-0.9zM327.8 264.7h0.9v0.9h-0.9zM306.3 268.3h0.9v0.9h-0.9zM315.8 265.4h0.9v0.9h-0.9zM306.9 278.0h0.9v0.9h-0.9zM335.3 269.9h0.9v0.9h-0.9zM300.7 265.1h0.9v0.9h-0.9zM312.0 270.7h0.9v0.9h-0.9zM336.8 265.2h0.9v0.9h-0.9zM317.7 265.7h0.9v0.9h-0.9zM317.6 264.2h0.9v0.9h-0.9zM320.7 274.5h0.9v0.9h-0.9zM310.6 266.2h0.9v0.9h-0.9zM317.3 260.8h0.9v0.9h-0.9zM339.5 260.6h0.9v0.9h-0.9zM311.1 263.1h0.9v0.9h-0.9zM335.4 265.3h0.9v0.9h-0.9zM309.2 278.5h0.9v0.9h-0.9zM314.2 263.7h0.9v0.9h-0.9zM315.7 269.1h0.9v0.9h-0.9zM306.0 267.0h0.9v0.9h-0.9zM313.0 272.0h0.9v0.9h-0.9zM325.8 272.7h0.9v0.9h-0.9zM314.2 272.5h0.9v0.9h-0.9zM313.0 274.5h0.9v0.9h-0.9zM321.1 265.7h0.9v0.9h-0.9zM331.9 259.7h0.9v0.9h-0.9zM303.1 263.6h0.9v0.9h-0.9zM314.1 261.2h0.9v0.9h-0.9zM300.1 257.6h0.9v0.9h-0.9zM317.3 263.8h0.9v0.9h-0.9zM300.8 275.4h0.9v0.9h-0.9zM317.2 274.0h0.9v0.9h-0.9zM301.3 274.5h0.9v0.9h-0.9zM330.2 265.7h0.9v0.9h-0.9zM304.7 265.9h0.9v0.9h-0.9zM319.3 281.4h0.9v0.9h-0.9zM339.5 276.3h0.9v0.9h-0.9zM312.9 266.2h0.9v0.9h-0.9zM320.6 266.5h0.9v0.9h-0.9zM309.7 266.9h0.9v0.9h-0.9zM326.9 267.7h0.9v0.9h-0.9zM318.9 266.6h0.9v0.9h-0.9zM313.3 266.2h0.9v0.9h-0.9zM332.3 269.3h0.9v0.9h-0.9zM335.3 267.1h0.9v0.9h-0.9zM329.7 260.4h0.9v0.9h-0.9zM310.5 267.7h0.9v0.9h-0.9zM307.5 267.4h0.9v0.9h-0.9zM303.7 267.1h0.9v0.9h-0.9zM307.1 268.0h0.9v0.9h-0.9zM311.9 262.5h0.9v0.9h-0.9zM310.5 268.2h0.9v0.9h-0.9zM299.2 268.6h0.9v0.9h-0.9zM332.1 266.8h0.9v0.9h-0.9zM323.0 271.5h0.9v0.9h-0.9zM305.3 275.4h0.9v0.9h-0.9zM334.9 258.0h0.9v0.9h-0.9zM290.7 268.2h0.8v0.8h-0.8zM318.6 273.7h0.8v0.8h-0.8zM319.7 271.7h0.8v0.8h-0.8zM335.4 256.9h0.8v0.8h-0.8zM315.1 281.4h0.8v0.8h-0.8zM291.3 257.6h0.8v0.8h-0.8zM332.3 281.3h0.8v0.8h-0.8zM290.9 255.4h0.8v0.8h-0.8zM330.4 273.8h0.8v0.8h-0.8zM315.2 270.7h0.8v0.8h-0.8zM326.8 277.1h0.8v0.8h-0.8zM289.7 256.4h0.8v0.8h-0.8zM328.6 281.8h0.8v0.8h-0.8zM330.5 265.9h0.8v0.8h-0.8zM306.1 264.2h0.8v0.8h-0.8zM290.4 276.1h0.8v0.8h-0.8zM302.6 270.9h0.8v0.8h-0.8zM315.5 263.9h0.8v0.8h-0.8zM322.8 267.2h0.8v0.8h-0.8zM301.2 279.2h0.8v0.8h-0.8zM298.3 258.7h0.8v0.8h-0.8zM302.1 267.9h0.8v0.8h-0.8zM328.1 263.8h0.8v0.8h-0.8zM301.4 272.8h0.8v0.8h-0.8zM302.5 269.1h0.8v0.8h-0.8zM302.2 279.1h0.8v0.8h-0.8zM298.7 261.0h0.8v0.8h-0.8zM304.5 263.7h0.8v0.8h-0.8zM325.3 273.4h0.8v0.8h-0.8zM328.4 269.6h0.8v0.8h-0.8zM293.6 275.9h0.8v0.8h-0.8zM301.7 260.6h0.8v0.8h-0.8zM310.0 282.2h0.8v0.8h-0.8zM307.9 264.5h0.8v0.8h-0.8zM334.3 282.2h0.8v0.8h-0.8zM308.7 258.3h0.8v0.8h-0.8zM328.4 276.4h0.8v0.8h-0.8zM306.3 276.6h0.8v0.8h-0.8zM308.3 262.5h0.8v0.8h-0.8zM318.8 275.3h0.8v0.8h-0.8zM313.0 277.4h0.8v0.8h-0.8zM290.4 268.5h0.8v0.8h-0.8zM308.3 256.3h0.8v0.8h-0.8zM334.5 258.5h0.8v0.8h-0.8zM299.8 279.1h0.8v0.8h-0.8zM336.8 280.6h0.8v0.8h-0.8zM306.5 280.6h0.8v0.8h-0.8zM296.6 274.5h0.8v0.8h-0.8zM336.0 259.9h0.8v0.8h-0.8zM296.3 273.5h0.8v0.8h-0.8zM332.9 274.8h0.8v0.8h-0.8zM336.2 267.2h0.8v0.8h-0.8zM307.9 257.9h0.8v0.8h-0.8zM303.1 280.8h0.8v0.8h-0.8zM293.2 259.7h0.8v0.8h-0.8zM306.7 255.9h0.8v0.8h-0.8z" fill="#383838"/>
<polygon points="259.1,223.9 291.5,223.9 291.5,248.3 259.1,265.8" fill="none" stroke="#2a2a2a" stroke-width="1.3"/>
<polygon points="304.3,249.9 339.8,249.9 339.8,284.4 280.8,284.4" fill="none" stroke="#2a2a2a" stroke-width="1.3"/>
<rect x="255.70" y="221.50" width="85.50" height="64.90" fill="none" stroke="#1a1a1a" stroke-width="1.1"/>
<line x1="256.90" y1="286.40" x2="256.90" y2="289.60" stroke="#1a1a1a" stroke-width="1.2" stroke-linecap="butt"/>
<text x="256.30" y="299.40" font-size="8.2" text-anchor="middle" font-weight="normal" fill="#111" stroke="#111" stroke-width="0.3" textLength="13.0" lengthAdjust="spacingAndGlyphs">10<tspan font-size="7.4" dy="-3.6">0</tspan></text>
<line x1="252.30" y1="284.80" x2="255.70" y2="284.80" stroke="#1a1a1a" stroke-width="1.2" stroke-linecap="butt"/>
<text x="248.10" y="285.00" font-size="8.0" text-anchor="middle" font-weight="normal" fill="#111" stroke="#111" stroke-width="0.3" transform="rotate(-90 248.10 285.00)" textLength="13.4" lengthAdjust="spacingAndGlyphs">10<tspan font-size="7.4" dy="-3.6">0</tspan></text>
<line x1="277.60" y1="286.40" x2="277.60" y2="289.60" stroke="#1a1a1a" stroke-width="1.2" stroke-linecap="butt"/>
<text x="277.00" y="299.40" font-size="8.2" text-anchor="middle" font-weight="normal" fill="#111" stroke="#111" stroke-width="0.3" textLength="13.0" lengthAdjust="spacingAndGlyphs">10<tspan font-size="7.4" dy="-3.6">1</tspan></text>
<line x1="252.30" y1="269.25" x2="255.70" y2="269.25" stroke="#1a1a1a" stroke-width="1.2" stroke-linecap="butt"/>
<text x="248.10" y="269.45" font-size="8.0" text-anchor="middle" font-weight="normal" fill="#111" stroke="#111" stroke-width="0.3" transform="rotate(-90 248.10 269.45)" textLength="13.4" lengthAdjust="spacingAndGlyphs">10<tspan font-size="7.4" dy="-3.6">1</tspan></text>
<line x1="298.30" y1="286.40" x2="298.30" y2="289.60" stroke="#1a1a1a" stroke-width="1.2" stroke-linecap="butt"/>
<text x="297.70" y="299.40" font-size="8.2" text-anchor="middle" font-weight="normal" fill="#111" stroke="#111" stroke-width="0.3" textLength="13.0" lengthAdjust="spacingAndGlyphs">10<tspan font-size="7.4" dy="-3.6">2</tspan></text>
<line x1="252.30" y1="253.70" x2="255.70" y2="253.70" stroke="#1a1a1a" stroke-width="1.2" stroke-linecap="butt"/>
<text x="248.10" y="253.90" font-size="8.0" text-anchor="middle" font-weight="normal" fill="#111" stroke="#111" stroke-width="0.3" transform="rotate(-90 248.10 253.90)" textLength="13.4" lengthAdjust="spacingAndGlyphs">10<tspan font-size="7.4" dy="-3.6">2</tspan></text>
<line x1="319.00" y1="286.40" x2="319.00" y2="289.60" stroke="#1a1a1a" stroke-width="1.2" stroke-linecap="butt"/>
<text x="318.40" y="299.40" font-size="8.2" text-anchor="middle" font-weight="normal" fill="#111" stroke="#111" stroke-width="0.3" textLength="13.0" lengthAdjust="spacingAndGlyphs">10<tspan font-size="7.4" dy="-3.6">3</tspan></text>
<line x1="252.30" y1="238.15" x2="255.70" y2="238.15" stroke="#1a1a1a" stroke-width="1.2" stroke-linecap="butt"/>
<text x="248.10" y="238.35" font-size="8.0" text-anchor="middle" font-weight="normal" fill="#111" stroke="#111" stroke-width="0.3" transform="rotate(-90 248.10 238.35)" textLength="13.4" lengthAdjust="spacingAndGlyphs">10<tspan font-size="7.4" dy="-3.6">3</tspan></text>
<line x1="339.70" y1="286.40" x2="339.70" y2="289.60" stroke="#1a1a1a" stroke-width="1.2" stroke-linecap="butt"/>
<text x="339.10" y="299.40" font-size="8.2" text-anchor="middle" font-weight="normal" fill="#111" stroke="#111" stroke-width="0.3" textLength="13.0" lengthAdjust="spacingAndGlyphs">10<tspan font-size="7.4" dy="-3.6">4</tspan></text>
<line x1="252.30" y1="222.60" x2="255.70" y2="222.60" stroke="#1a1a1a" stroke-width="1.2" stroke-linecap="butt"/>
<text x="248.10" y="222.80" font-size="8.0" text-anchor="middle" font-weight="normal" fill="#111" stroke="#111" stroke-width="0.3" transform="rotate(-90 248.10 222.80)" textLength="13.4" lengthAdjust="spacingAndGlyphs">10<tspan font-size="7.4" dy="-3.6">4</tspan></text>
<line x1="263.13" y1="286.40" x2="263.13" y2="288.50" stroke="#1a1a1a" stroke-width="0.8" stroke-linecap="butt"/>
<line x1="253.50" y1="280.12" x2="255.70" y2="280.12" stroke="#1a1a1a" stroke-width="0.8" stroke-linecap="butt"/>
<line x1="266.78" y1="286.40" x2="266.78" y2="288.50" stroke="#1a1a1a" stroke-width="0.8" stroke-linecap="butt"/>
<line x1="253.50" y1="277.38" x2="255.70" y2="277.38" stroke="#1a1a1a" stroke-width="0.8" stroke-linecap="butt"/>
<line x1="269.36" y1="286.40" x2="269.36" y2="288.50" stroke="#1a1a1a" stroke-width="0.8" stroke-linecap="butt"/>
<line x1="253.50" y1="275.44" x2="255.70" y2="275.44" stroke="#1a1a1a" stroke-width="0.8" stroke-linecap="butt"/>
<line x1="271.37" y1="286.40" x2="271.37" y2="288.50" stroke="#1a1a1a" stroke-width="0.8" stroke-linecap="butt"/>
<line x1="253.50" y1="273.93" x2="255.70" y2="273.93" stroke="#1a1a1a" stroke-width="0.8" stroke-linecap="butt"/>
<line x1="273.01" y1="286.40" x2="273.01" y2="288.50" stroke="#1a1a1a" stroke-width="0.8" stroke-linecap="butt"/>
<line x1="253.50" y1="272.70" x2="255.70" y2="272.70" stroke="#1a1a1a" stroke-width="0.8" stroke-linecap="butt"/>
<line x1="274.39" y1="286.40" x2="274.39" y2="288.50" stroke="#1a1a1a" stroke-width="0.8" stroke-linecap="butt"/>
<line x1="253.50" y1="271.66" x2="255.70" y2="271.66" stroke="#1a1a1a" stroke-width="0.8" stroke-linecap="butt"/>
<line x1="275.59" y1="286.40" x2="275.59" y2="288.50" stroke="#1a1a1a" stroke-width="0.8" stroke-linecap="butt"/>
<line x1="253.50" y1="270.76" x2="255.70" y2="270.76" stroke="#1a1a1a" stroke-width="0.8" stroke-linecap="butt"/>
<line x1="276.65" y1="286.40" x2="276.65" y2="288.50" stroke="#1a1a1a" stroke-width="0.8" stroke-linecap="butt"/>
<line x1="253.50" y1="269.96" x2="255.70" y2="269.96" stroke="#1a1a1a" stroke-width="0.8" stroke-linecap="butt"/>
<line x1="283.83" y1="286.40" x2="283.83" y2="288.50" stroke="#1a1a1a" stroke-width="0.8" stroke-linecap="butt"/>
<line x1="253.50" y1="264.57" x2="255.70" y2="264.57" stroke="#1a1a1a" stroke-width="0.8" stroke-linecap="butt"/>
<line x1="287.48" y1="286.40" x2="287.48" y2="288.50" stroke="#1a1a1a" stroke-width="0.8" stroke-linecap="butt"/>
<line x1="253.50" y1="261.83" x2="255.70" y2="261.83" stroke="#1a1a1a" stroke-width="0.8" stroke-linecap="butt"/>
<line x1="290.06" y1="286.40" x2="290.06" y2="288.50" stroke="#1a1a1a" stroke-width="0.8" stroke-linecap="butt"/>
<line x1="253.50" y1="259.89" x2="255.70" y2="259.89" stroke="#1a1a1a" stroke-width="0.8" stroke-linecap="butt"/>
<line x1="292.07" y1="286.40" x2="292.07" y2="288.50" stroke="#1a1a1a" stroke-width="0.8" stroke-linecap="butt"/>
<line x1="253.50" y1="258.38" x2="255.70" y2="258.38" stroke="#1a1a1a" stroke-width="0.8" stroke-linecap="butt"/>
<line x1="293.71" y1="286.40" x2="293.71" y2="288.50" stroke="#1a1a1a" stroke-width="0.8" stroke-linecap="butt"/>
<line x1="253.50" y1="257.15" x2="255.70" y2="257.15" stroke="#1a1a1a" stroke-width="0.8" stroke-linecap="butt"/>
<line x1="295.09" y1="286.40" x2="295.09" y2="288.50" stroke="#1a1a1a" stroke-width="0.8" stroke-linecap="butt"/>
<line x1="253.50" y1="256.11" x2="255.70" y2="256.11" stroke="#1a1a1a" stroke-width="0.8" stroke-linecap="butt"/>
<line x1="296.29" y1="286.40" x2="296.29" y2="288.50" stroke="#1a1a1a" stroke-width="0.8" stroke-linecap="butt"/>
<line x1="253.50" y1="255.21" x2="255.70" y2="255.21" stroke="#1a1a1a" stroke-width="0.8" stroke-linecap="butt"/>
<line x1="297.35" y1="286.40" x2="297.35" y2="288.50" stroke="#1a1a1a" stroke-width="0.8" stroke-linecap="butt"/>
<line x1="253.50" y1="254.41" x2="255.70" y2="254.41" stroke="#1a1a1a" stroke-width="0.8" stroke-linecap="butt"/>
<line x1="304.53" y1="286.40" x2="304.53" y2="288.50" stroke="#1a1a1a" stroke-width="0.8" stroke-linecap="butt"/>
<line x1="253.50" y1="249.02" x2="255.70" y2="249.02" stroke="#1a1a1a" stroke-width="0.8" stroke-linecap="butt"/>
<line x1="308.18" y1="286.40" x2="308.18" y2="288.50" stroke="#1a1a1a" stroke-width="0.8" stroke-linecap="butt"/>
<line x1="253.50" y1="246.28" x2="255.70" y2="246.28" stroke="#1a1a1a" stroke-width="0.8" stroke-linecap="butt"/>
<line x1="310.76" y1="286.40" x2="310.76" y2="288.50" stroke="#1a1a1a" stroke-width="0.8" stroke-linecap="butt"/>
<line x1="253.50" y1="244.34" x2="255.70" y2="244.34" stroke="#1a1a1a" stroke-width="0.8" stroke-linecap="butt"/>
<line x1="312.77" y1="286.40" x2="312.77" y2="288.50" stroke="#1a1a1a" stroke-width="0.8" stroke-linecap="butt"/>
<line x1="253.50" y1="242.83" x2="255.70" y2="242.83" stroke="#1a1a1a" stroke-width="0.8" stroke-linecap="butt"/>
<line x1="314.41" y1="286.40" x2="314.41" y2="288.50" stroke="#1a1a1a" stroke-width="0.8" stroke-linecap="butt"/>
<line x1="253.50" y1="241.60" x2="255.70" y2="241.60" stroke="#1a1a1a" stroke-width="0.8" stroke-linecap="butt"/>
<line x1="315.79" y1="286.40" x2="315.79" y2="288.50" stroke="#1a1a1a" stroke-width="0.8" stroke-linecap="butt"/>
<line x1="253.50" y1="240.56" x2="255.70" y2="240.56" stroke="#1a1a1a" stroke-width="0.8" stroke-linecap="butt"/>
<line x1="316.99" y1="286.40" x2="316.99" y2="288.50" stroke="#1a1a1a" stroke-width="0.8" stroke-linecap="butt"/>
<line x1="253.50" y1="239.66" x2="255.70" y2="239.66" stroke="#1a1a1a" stroke-width="0.8" stroke-linecap="butt"/>
<line x1="318.05" y1="286.40" x2="318.05" y2="288.50" stroke="#1a1a1a" stroke-width="0.8" stroke-linecap="butt"/>
<line x1="253.50" y1="238.86" x2="255.70" y2="238.86" stroke="#1a1a1a" stroke-width="0.8" stroke-linecap="butt"/>
<line x1="325.23" y1="286.40" x2="325.23" y2="288.50" stroke="#1a1a1a" stroke-width="0.8" stroke-linecap="butt"/>
<line x1="253.50" y1="233.47" x2="255.70" y2="233.47" stroke="#1a1a1a" stroke-width="0.8" stroke-linecap="butt"/>
<line x1="328.88" y1="286.40" x2="328.88" y2="288.50" stroke="#1a1a1a" stroke-width="0.8" stroke-linecap="butt"/>
<line x1="253.50" y1="230.73" x2="255.70" y2="230.73" stroke="#1a1a1a" stroke-width="0.8" stroke-linecap="butt"/>
<line x1="331.46" y1="286.40" x2="331.46" y2="288.50" stroke="#1a1a1a" stroke-width="0.8" stroke-linecap="butt"/>
<line x1="253.50" y1="228.79" x2="255.70" y2="228.79" stroke="#1a1a1a" stroke-width="0.8" stroke-linecap="butt"/>
<line x1="333.47" y1="286.40" x2="333.47" y2="288.50" stroke="#1a1a1a" stroke-width="0.8" stroke-linecap="butt"/>
<line x1="253.50" y1="227.28" x2="255.70" y2="227.28" stroke="#1a1a1a" stroke-width="0.8" stroke-linecap="butt"/>
<line x1="335.11" y1="286.40" x2="335.11" y2="288.50" stroke="#1a1a1a" stroke-width="0.8" stroke-linecap="butt"/>
<line x1="253.50" y1="226.05" x2="255.70" y2="226.05" stroke="#1a1a1a" stroke-width="0.8" stroke-linecap="butt"/>
<line x1="336.49" y1="286.40" x2="336.49" y2="288.50" stroke="#1a1a1a" stroke-width="0.8" stroke-linecap="butt"/>
<line x1="253.50" y1="225.01" x2="255.70" y2="225.01" stroke="#1a1a1a" stroke-width="0.8" stroke-linecap="butt"/>
<line x1="337.69" y1="286.40" x2="337.69" y2="288.50" stroke="#1a1a1a" stroke-width="0.8" stroke-linecap="butt"/>
<line x1="253.50" y1="224.11" x2="255.70" y2="224.11" stroke="#1a1a1a" stroke-width="0.8" stroke-linecap="butt"/>
<line x1="338.75" y1="286.40" x2="338.75" y2="288.50" stroke="#1a1a1a" stroke-width="0.8" stroke-linecap="butt"/>
<line x1="253.50" y1="223.31" x2="255.70" y2="223.31" stroke="#1a1a1a" stroke-width="0.8" stroke-linecap="butt"/>
<text x="292.70" y="234.90" font-size="13.6" text-anchor="start" font-weight="normal" fill="#000" stroke="#000" stroke-width="0.3">1</text>
<text x="338.10" y="247.30" font-size="13.6" text-anchor="end" font-weight="normal" fill="#000" stroke="#000" stroke-width="0.3">3</text>
<polygon points="255.7,365.4 261.7,364.0 268.7,362.0 276.7,358.4 283.7,355.0 290.7,351.4 295.7,348.8 296.9,349.9 294.2,355.9 289.2,364.4 284.7,371.9 280.3,379.4 280.3,380.8 255.7,380.8" fill="#383838"/>
<path d="M294.1 343.5h1.0v1.0h-1.0zM283.1 354.5h1.0v1.0h-1.0zM281.3 356.4h1.0v1.0h-1.0zM268.1 362.0h1.0v1.0h-1.0zM257.4 365.2h1.0v1.0h-1.0zM279.5 354.7h1.0v1.0h-1.0zM274.1 359.9h1.0v1.0h-1.0zM284.7 352.4h1.0v1.0h-1.0zM295.0 348.4h1.0v1.0h-1.0zM281.8 354.0h1.0v1.0h-1.0zM270.5 360.8h1.0v1.0h-1.0zM283.5 354.5h1.0v1.0h-1.0zM285.5 354.2h1.0v1.0h-1.0zM291.8 351.0h1.0v1.0h-1.0zM262.7 364.1h1.0v1.0h-1.0zM282.8 352.8h1.0v1.0h-1.0zM272.3 359.9h1.0v1.0h-1.0zM290.7 350.4h1.0v1.0h-1.0zM269.2 362.0h1.0v1.0h-1.0zM290.3 350.7h1.0v1.0h-1.0zM280.0 352.0h1.0v1.0h-1.0zM263.7 359.2h1.0v1.0h-1.0zM260.7 364.4h1.0v1.0h-1.0zM287.0 346.7h1.0v1.0h-1.0zM288.6 345.5h1.0v1.0h-1.0zM288.5 351.7h1.0v1.0h-1.0zM295.2 348.3h1.0v1.0h-1.0zM278.8 357.5h1.0v1.0h-1.0zM294.2 343.3h1.0v1.0h-1.0zM281.3 356.3h1.0v1.0h-1.0zM281.5 353.5h1.0v1.0h-1.0zM294.1 349.1h1.0v1.0h-1.0zM273.7 357.1h1.0v1.0h-1.0zM285.3 352.7h1.0v1.0h-1.0zM286.6 350.2h1.0v1.0h-1.0zM270.3 360.6h1.0v1.0h-1.0zM288.4 350.5h1.0v1.0h-1.0zM261.3 363.2h1.0v1.0h-1.0zM272.9 359.4h1.0v1.0h-1.0zM294.0 349.5h1.0v1.0h-1.0zM282.3 354.7h1.0v1.0h-1.0zM279.7 356.8h1.0v1.0h-1.0zM286.9 353.1h1.0v1.0h-1.0zM264.5 361.5h1.0v1.0h-1.0zM266.9 361.5h1.0v1.0h-1.0zM277.6 358.5h1.0v1.0h-1.0zM286.9 352.2h1.0v1.0h-1.0zM281.0 354.8h1.0v1.0h-1.0zM272.3 358.2h1.0v1.0h-1.0zM293.2 349.4h1.0v1.0h-1.0zM289.5 349.8h1.0v1.0h-1.0zM271.6 360.2h1.0v1.0h-1.0zM270.7 356.8h1.0v1.0h-1.0zM277.3 356.1h1.0v1.0h-1.0zM278.9 356.3h1.0v1.0h-1.0zM261.5 364.2h1.0v1.0h-1.0zM268.8 359.5h1.0v1.0h-1.0zM278.4 357.7h1.0v1.0h-1.0zM282.7 354.9h1.0v1.0h-1.0zM291.6 350.4h1.0v1.0h-1.0zM296.7 347.0h1.0v1.0h-1.0zM270.2 361.2h1.0v1.0h-1.0zM264.8 361.7h1.0v1.0h-1.0zM276.3 357.5h1.0v1.0h-1.0zM271.7 361.3h1.0v1.0h-1.0zM264.3 359.1h1.0v1.0h-1.0zM294.7 349.8h1.0v1.0h-1.0zM263.5 362.4h1.0v1.0h-1.0zM277.4 355.8h1.0v1.0h-1.0zM290.8 349.4h1.0v1.0h-1.0zM283.5 354.8h1.0v1.0h-1.0zM292.5 350.4h1.0v1.0h-1.0zM276.2 358.0h1.0v1.0h-1.0zM291.6 349.7h1.0v1.0h-1.0zM273.9 358.4h1.0v1.0h-1.0zM269.8 358.0h1.0v1.0h-1.0zM295.8 340.1h1.0v1.0h-1.0zM290.5 348.5h1.0v1.0h-1.0zM258.2 364.6h1.0v1.0h-1.0zM279.8 356.1h1.0v1.0h-1.0zM275.7 358.9h1.0v1.0h-1.0zM292.1 349.5h1.0v1.0h-1.0zM275.9 358.4h1.0v1.0h-1.0zM278.8 357.9h1.0v1.0h-1.0zM292.3 349.6h1.0v1.0h-1.0zM284.3 353.9h1.0v1.0h-1.0zM285.1 350.6h1.0v1.0h-1.0zM277.0 358.4h1.0v1.0h-1.0zM291.6 350.1h1.0v1.0h-1.0zM258.3 364.7h1.0v1.0h-1.0zM294.8 346.4h1.0v1.0h-1.0zM268.5 361.6h1.0v1.0h-1.0zM282.9 355.2h1.0v1.0h-1.0zM280.9 356.2h1.0v1.0h-1.0zM260.6 364.1h1.0v1.0h-1.0zM272.4 359.7h1.0v1.0h-1.0zM288.6 350.7h1.0v1.0h-1.0zM273.2 354.7h1.0v1.0h-1.0zM268.5 361.5h1.0v1.0h-1.0zM290.6 351.1h1.0v1.0h-1.0zM295.1 349.5h1.0v1.0h-1.0zM292.3 350.0h1.0v1.0h-1.0zM286.7 348.0h1.0v1.0h-1.0zM293.4 342.4h1.0v1.0h-1.0zM262.2 362.4h1.0v1.0h-1.0zM290.8 349.1h1.0v1.0h-1.0zM294.0 347.4h1.0v1.0h-1.0zM282.5 347.2h1.0v1.0h-1.0zM285.8 350.6h1.0v1.0h-1.0zM289.6 352.7h1.0v1.0h-1.0zM291.4 351.0h1.0v1.0h-1.0zM286.2 353.9h1.0v1.0h-1.0zM295.6 349.4h1.0v1.0h-1.0zM281.2 354.4h1.0v1.0h-1.0zM291.7 349.6h1.0v1.0h-1.0zM274.7 358.8h1.0v1.0h-1.0zM279.0 353.0h1.0v1.0h-1.0zM261.4 364.2h1.0v1.0h-1.0zM286.5 352.2h1.0v1.0h-1.0zM290.4 348.3h1.0v1.0h-1.0zM261.7 363.6h1.0v1.0h-1.0zM283.0 354.1h1.0v1.0h-1.0zM279.1 354.3h1.0v1.0h-1.0zM283.2 350.7h1.0v1.0h-1.0zM290.7 347.9h1.0v1.0h-1.0zM292.5 348.7h1.0v1.0h-1.0zM295.2 344.2h1.0v1.0h-1.0zM274.5 359.7h1.0v1.0h-1.0zM279.9 350.3h1.0v1.0h-1.0zM268.1 361.8h1.0v1.0h-1.0zM293.5 349.2h1.0v1.0h-1.0zM269.3 362.3h1.0v1.0h-1.0zM283.5 347.1h1.0v1.0h-1.0zM262.7 362.7h1.0v1.0h-1.0zM284.7 352.0h1.0v1.0h-1.0zM294.0 349.3h1.0v1.0h-1.0zM288.8 351.5h1.0v1.0h-1.0zM260.3 363.9h1.0v1.0h-1.0zM278.1 355.0h1.0v1.0h-1.0zM275.3 357.7h1.0v1.0h-1.0zM265.2 360.9h1.0v1.0h-1.0zM292.2 347.7h1.0v1.0h-1.0zM286.9 353.4h1.0v1.0h-1.0zM283.2 348.8h1.0v1.0h-1.0zM294.8 347.5h1.0v1.0h-1.0zM270.7 360.3h1.0v1.0h-1.0zM280.0 351.6h1.0v1.0h-1.0zM283.6 349.6h1.0v1.0h-1.0zM275.1 357.1h1.0v1.0h-1.0zM272.4 360.2h1.0v1.0h-1.0zM256.6 365.1h1.0v1.0h-1.0zM279.6 356.7h1.0v1.0h-1.0zM293.1 346.7h1.0v1.0h-1.0zM268.4 361.7h1.0v1.0h-1.0zM284.8 354.7h1.0v1.0h-1.0zM292.9 349.9h1.0v1.0h-1.0zM260.9 363.4h1.0v1.0h-1.0zM293.4 342.0h1.0v1.0h-1.0zM287.3 346.1h1.0v1.0h-1.0zM288.3 350.2h1.0v1.0h-1.0zM287.4 352.1h1.0v1.0h-1.0zM291.8 350.9h1.0v1.0h-1.0zM274.7 359.1h1.0v1.0h-1.0zM259.2 364.7h1.0v1.0h-1.0zM262.7 363.5h1.0v1.0h-1.0zM260.9 363.2h1.0v1.0h-1.0zM272.6 359.3h1.0v1.0h-1.0zM287.6 350.9h1.0v1.0h-1.0zM293.2 347.9h1.0v1.0h-1.0zM269.4 360.7h1.0v1.0h-1.0zM289.7 349.0h1.0v1.0h-1.0zM289.9 349.7h1.0v1.0h-1.0zM283.8 354.5h1.0v1.0h-1.0zM293.8 346.0h1.0v1.0h-1.0zM278.3 357.9h1.0v1.0h-1.0zM265.1 363.1h1.0v1.0h-1.0zM294.6 348.8h1.0v1.0h-1.0zM284.7 353.0h1.0v1.0h-1.0zM290.5 351.0h1.0v1.0h-1.0zM284.0 354.1h1.0v1.0h-1.0zM290.7 351.6h1.0v1.0h-1.0zM256.7 365.2h1.0v1.0h-1.0zM295.4 345.0h1.0v1.0h-1.0zM268.8 362.3h1.0v1.0h-1.0zM285.1 354.0h1.0v1.0h-1.0zM265.5 363.0h1.0v1.0h-1.0zM293.0 350.1h1.0v1.0h-1.0zM287.9 353.1h1.0v1.0h-1.0zM275.2 357.7h1.0v1.0h-1.0zM272.4 359.8h1.0v1.0h-1.0zM285.1 354.6h1.0v1.0h-1.0zM289.4 351.8h1.0v1.0h-1.0zM261.6 364.2h1.0v1.0h-1.0zM263.7 363.7h1.0v1.0h-1.0zM291.1 349.4h1.0v1.0h-1.0zM291.1 351.4h1.0v1.0h-1.0zM259.7 364.0h1.0v1.0h-1.0zM284.6 351.4h1.0v1.0h-1.0zM259.0 363.9h1.0v1.0h-1.0zM293.9 347.9h1.0v1.0h-1.0zM290.6 347.5h1.0v1.0h-1.0zM279.8 357.3h1.0v1.0h-1.0zM285.8 352.7h1.0v1.0h-1.0zM294.6 347.2h1.0v1.0h-1.0zM268.7 362.3h1.0v1.0h-1.0zM294.0 350.2h1.0v1.0h-1.0zM282.0 353.8h1.0v1.0h-1.0zM294.1 349.8h1.0v1.0h-1.0zM267.9 362.0h1.0v1.0h-1.0zM261.7 364.1h1.0v1.0h-1.0zM269.3 361.3h1.0v1.0h-1.0zM261.3 362.7h1.0v1.0h-1.0zM290.8 351.2h1.0v1.0h-1.0zM288.3 352.8h1.0v1.0h-1.0zM267.1 361.9h1.0v1.0h-1.0zM273.1 357.6h1.0v1.0h-1.0zM292.9 347.4h1.0v1.0h-1.0zM295.4 341.5h1.0v1.0h-1.0zM258.6 365.1h1.0v1.0h-1.0zM281.4 356.1h1.0v1.0h-1.0zM279.0 353.9h1.0v1.0h-1.0zM282.8 354.2h1.0v1.0h-1.0zM290.4 348.6h1.0v1.0h-1.0zM290.8 350.2h1.0v1.0h-1.0zM278.1 356.3h1.0v1.0h-1.0zM293.8 344.7h1.0v1.0h-1.0zM293.3 344.0h1.0v1.0h-1.0zM286.7 353.1h1.0v1.0h-1.0zM282.3 354.9h1.0v1.0h-1.0zM293.0 348.5h1.0v1.0h-1.0zM258.7 363.8h1.0v1.0h-1.0zM290.4 351.0h1.0v1.0h-1.0zM267.1 362.1h1.0v1.0h-1.0zM272.9 359.8h1.0v1.0h-1.0zM272.0 359.4h1.0v1.0h-1.0zM294.1 349.5h1.0v1.0h-1.0zM272.3 360.0h1.0v1.0h-1.0zM291.1 351.0h1.0v1.0h-1.0zM281.7 354.6h1.0v1.0h-1.0zM283.1 354.9h1.0v1.0h-1.0zM289.7 350.1h1.0v1.0h-1.0zM276.2 352.3h1.0v1.0h-1.0zM262.7 362.8h1.0v1.0h-1.0zM261.6 363.1h1.0v1.0h-1.0zM284.8 354.9h1.0v1.0h-1.0zM277.1 347.0h1.0v1.0h-1.0zM292.7 348.4h1.0v1.0h-1.0zM290.2 350.6h1.0v1.0h-1.0zM290.3 350.0h1.0v1.0h-1.0zM263.7 363.0h1.0v1.0h-1.0zM262.7 362.7h1.0v1.0h-1.0zM264.7 363.3h1.0v1.0h-1.0zM284.7 354.7h1.0v1.0h-1.0zM294.5 337.9h1.0v1.0h-1.0zM286.0 353.4h1.0v1.0h-1.0zM270.8 361.5h1.0v1.0h-1.0zM283.4 354.7h1.0v1.0h-1.0zM288.9 352.0h1.0v1.0h-1.0zM268.3 360.1h1.0v1.0h-1.0zM280.2 355.2h1.0v1.0h-1.0zM273.1 354.9h1.0v1.0h-1.0zM261.4 364.1h1.0v1.0h-1.0zM272.8 357.5h1.0v1.0h-1.0zM289.2 349.8h1.0v1.0h-1.0zM286.9 350.9h1.0v1.0h-1.0zM280.2 352.5h1.0v1.0h-1.0zM282.3 355.3h1.0v1.0h-1.0zM285.0 354.3h1.0v1.0h-1.0zM290.5 348.1h1.0v1.0h-1.0zM274.6 358.4h1.0v1.0h-1.0zM278.2 356.4h1.0v1.0h-1.0zM279.6 356.7h1.0v1.0h-1.0zM280.0 355.7h1.0v1.0h-1.0zM292.0 348.5h1.0v1.0h-1.0zM275.0 358.2h1.0v1.0h-1.0zM287.0 352.8h1.0v1.0h-1.0zM259.4 364.8h1.0v1.0h-1.0zM273.3 359.3h1.0v1.0h-1.0zM267.9 361.8h1.0v1.0h-1.0zM269.2 361.1h1.0v1.0h-1.0zM259.6 364.8h1.0v1.0h-1.0zM277.3 354.6h1.0v1.0h-1.0zM294.5 346.9h1.0v1.0h-1.0zM291.9 347.5h1.0v1.0h-1.0zM290.6 350.8h1.0v1.0h-1.0zM294.3 350.2h1.0v1.0h-1.0zM275.9 356.2h1.0v1.0h-1.0zM281.7 355.5h1.0v1.0h-1.0zM265.0 363.3h1.0v1.0h-1.0zM260.8 364.5h1.0v1.0h-1.0zM278.9 357.1h1.0v1.0h-1.0zM257.0 364.8h1.0v1.0h-1.0zM282.0 355.7h1.0v1.0h-1.0zM259.8 362.4h1.0v1.0h-1.0zM285.7 352.6h1.0v1.0h-1.0zM268.4 361.4h1.0v1.0h-1.0zM278.6 358.0h1.0v1.0h-1.0zM267.8 357.4h1.0v1.0h-1.0zM294.9 348.2h1.0v1.0h-1.0zM292.8 350.2h1.0v1.0h-1.0zM292.0 350.4h1.0v1.0h-1.0zM275.8 358.6h1.0v1.0h-1.0zM261.6 363.3h1.0v1.0h-1.0zM265.2 363.3h1.0v1.0h-1.0zM271.3 360.4h1.0v1.0h-1.0zM293.4 348.0h1.0v1.0h-1.0zM271.4 360.0h1.0v1.0h-1.0zM267.5 362.5h1.0v1.0h-1.0zM260.8 364.3h1.0v1.0h-1.0zM268.7 360.8h1.0v1.0h-1.0zM288.4 351.8h1.0v1.0h-1.0zM265.4 361.3h1.0v1.0h-1.0zM291.5 346.9h1.0v1.0h-1.0zM291.8 349.8h1.0v1.0h-1.0zM282.4 354.8h1.0v1.0h-1.0zM291.9 350.2h1.0v1.0h-1.0zM259.3 362.8h1.0v1.0h-1.0zM275.0 359.3h1.0v1.0h-1.0zM264.1 362.7h1.0v1.0h-1.0zM279.1 356.0h1.0v1.0h-1.0zM295.0 347.8h1.0v1.0h-1.0zM281.8 354.2h1.0v1.0h-1.0zM289.7 350.6h1.0v1.0h-1.0zM265.5 363.2h1.0v1.0h-1.0zM293.3 348.8h1.0v1.0h-1.0zM284.9 353.7h1.0v1.0h-1.0zM272.8 354.5h1.0v1.0h-1.0zM280.0 357.1h1.0v1.0h-1.0zM269.7 360.9h1.0v1.0h-1.0zM265.9 362.1h1.0v1.0h-1.0zM285.9 352.2h1.0v1.0h-1.0zM259.5 364.7h1.0v1.0h-1.0zM278.6 354.9h1.0v1.0h-1.0zM257.6 364.0h1.0v1.0h-1.0zM293.1 342.0h1.0v1.0h-1.0zM282.5 355.7h1.0v1.0h-1.0zM287.2 347.4h1.0v1.0h-1.0zM293.5 350.5h1.0v1.0h-1.0zM267.5 361.8h1.0v1.0h-1.0zM279.2 355.7h1.0v1.0h-1.0zM272.1 360.8h1.0v1.0h-1.0zM265.2 363.1h1.0v1.0h-1.0zM258.2 365.1h1.0v1.0h-1.0zM290.3 347.6h1.0v1.0h-1.0zM292.1 349.3h1.0v1.0h-1.0zM284.1 352.4h1.0v1.0h-1.0zM269.5 361.9h1.0v1.0h-1.0zM280.5 355.6h1.0v1.0h-1.0zM257.9 365.1h1.0v1.0h-1.0zM264.6 362.5h1.0v1.0h-1.0zM284.3 353.5h1.0v1.0h-1.0zM260.3 363.3h1.0v1.0h-1.0zM271.1 359.4h1.0v1.0h-1.0zM286.9 353.0h1.0v1.0h-1.0zM282.1 353.4h1.0v1.0h-1.0zM264.2 363.2h1.0v1.0h-1.0zM265.0 361.5h1.0v1.0h-1.0zM284.2 353.7h1.0v1.0h-1.0zM285.2 354.0h1.0v1.0h-1.0zM276.7 354.1h1.0v1.0h-1.0zM273.6 359.6h1.0v1.0h-1.0zM284.3 352.7h1.0v1.0h-1.0zM275.6 359.0h1.0v1.0h-1.0zM282.7 355.1h1.0v1.0h-1.0zM295.0 348.6h1.0v1.0h-1.0zM268.8 361.6h1.0v1.0h-1.0zM267.7 360.9h1.0v1.0h-1.0zM281.2 356.5h1.0v1.0h-1.0zM270.5 360.3h1.0v1.0h-1.0zM278.8 355.7h1.0v1.0h-1.0zM266.2 363.1h1.0v1.0h-1.0zM287.4 350.6h1.0v1.0h-1.0zM266.5 361.9h1.0v1.0h-1.0zM259.3 362.5h1.0v1.0h-1.0zM291.1 350.6h1.0v1.0h-1.0zM291.3 351.1h1.0v1.0h-1.0zM291.0 347.6h1.0v1.0h-1.0zM290.4 347.8h1.0v1.0h-1.0zM265.1 361.8h1.0v1.0h-1.0zM289.3 364.8h1.0v1.0h-1.0zM282.1 377.2h1.0v1.0h-1.0zM288.0 367.6h1.0v1.0h-1.0zM289.8 365.0h1.0v1.0h-1.0zM296.7 352.9h1.0v1.0h-1.0zM295.7 353.0h1.0v1.0h-1.0zM293.0 358.0h1.0v1.0h-1.0zM283.2 375.2h1.0v1.0h-1.0zM293.2 361.2h1.0v1.0h-1.0zM290.7 363.9h1.0v1.0h-1.0zM295.6 352.4h1.0v1.0h-1.0zM285.2 371.6h1.0v1.0h-1.0zM282.7 377.2h1.0v1.0h-1.0zM285.7 370.5h1.0v1.0h-1.0zM301.1 349.0h1.0v1.0h-1.0zM288.3 365.2h1.0v1.0h-1.0zM295.8 353.8h1.0v1.0h-1.0zM293.6 357.0h1.0v1.0h-1.0zM281.3 378.0h1.0v1.0h-1.0zM295.6 354.8h1.0v1.0h-1.0zM296.6 351.8h1.0v1.0h-1.0zM285.0 372.2h1.0v1.0h-1.0zM295.4 354.3h1.0v1.0h-1.0zM294.1 356.2h1.0v1.0h-1.0zM282.8 375.1h1.0v1.0h-1.0zM294.6 359.6h1.0v1.0h-1.0zM293.7 355.2h1.0v1.0h-1.0zM285.1 372.7h1.0v1.0h-1.0zM298.2 350.3h1.0v1.0h-1.0zM294.7 354.4h1.0v1.0h-1.0zM295.4 351.8h1.0v1.0h-1.0zM290.4 363.2h1.0v1.0h-1.0zM287.3 371.2h1.0v1.0h-1.0zM289.0 364.1h1.0v1.0h-1.0zM293.2 358.7h1.0v1.0h-1.0zM295.6 352.7h1.0v1.0h-1.0zM291.5 362.5h1.0v1.0h-1.0zM285.9 370.2h1.0v1.0h-1.0zM282.4 376.6h1.0v1.0h-1.0zM286.4 369.9h1.0v1.0h-1.0zM291.7 359.8h1.0v1.0h-1.0zM287.7 366.3h1.0v1.0h-1.0zM289.8 363.5h1.0v1.0h-1.0zM296.0 351.9h1.0v1.0h-1.0zM295.0 352.2h1.0v1.0h-1.0zM293.3 362.5h1.0v1.0h-1.0zM288.2 368.9h1.0v1.0h-1.0zM283.5 371.9h1.0v1.0h-1.0zM299.8 349.3h1.0v1.0h-1.0zM285.1 379.0h1.0v1.0h-1.0zM288.8 364.1h1.0v1.0h-1.0zM297.2 351.5h1.0v1.0h-1.0zM297.1 350.9h1.0v1.0h-1.0zM284.4 373.9h1.0v1.0h-1.0zM290.4 361.9h1.0v1.0h-1.0zM294.7 355.2h1.0v1.0h-1.0zM289.3 363.4h1.0v1.0h-1.0zM287.9 366.1h1.0v1.0h-1.0zM295.2 354.5h1.0v1.0h-1.0zM285.8 370.0h1.0v1.0h-1.0zM290.9 360.2h1.0v1.0h-1.0zM282.7 374.2h1.0v1.0h-1.0zM286.7 371.5h1.0v1.0h-1.0zM291.5 359.7h1.0v1.0h-1.0zM294.3 356.5h1.0v1.0h-1.0zM283.4 373.4h1.0v1.0h-1.0zM284.2 371.6h1.0v1.0h-1.0zM297.4 357.6h1.0v1.0h-1.0zM299.7 348.7h1.0v1.0h-1.0zM293.1 359.0h1.0v1.0h-1.0zM295.2 343.7h0.9v0.9h-0.9zM297.5 343.3h0.9v0.9h-0.9zM297.6 343.8h0.9v0.9h-0.9zM304.2 345.8h0.9v0.9h-0.9zM306.3 345.9h0.9v0.9h-0.9zM300.2 351.0h0.9v0.9h-0.9zM297.4 349.1h0.9v0.9h-0.9zM296.6 348.6h0.9v0.9h-0.9zM300.2 346.7h0.9v0.9h-0.9zM298.2 352.8h0.9v0.9h-0.9zM301.8 343.3h0.9v0.9h-0.9zM306.4 343.2h0.9v0.9h-0.9zM302.0 347.9h0.9v0.9h-0.9zM299.9 347.4h0.9v0.9h-0.9zM298.4 346.8h0.9v0.9h-0.9zM297.3 343.9h0.9v0.9h-0.9zM273.2 338.0h0.9v0.9h-0.9zM273.5 344.8h0.9v0.9h-0.9zM272.0 349.5h0.9v0.9h-0.9zM274.9 336.2h0.9v0.9h-0.9zM274.2 342.0h0.9v0.9h-0.9zM272.8 340.6h0.9v0.9h-0.9zM274.1 327.3h0.9v0.9h-0.9zM274.6 346.7h0.9v0.9h-0.9zM271.2 340.9h0.9v0.9h-0.9zM270.3 342.5h0.9v0.9h-0.9zM270.5 332.3h0.9v0.9h-0.9zM274.9 337.3h0.9v0.9h-0.9zM273.7 346.1h0.9v0.9h-0.9zM277.5 332.9h0.9v0.9h-0.9zM276.4 337.0h0.9v0.9h-0.9zM275.9 334.3h0.9v0.9h-0.9zM273.0 336.5h0.9v0.9h-0.9zM270.9 335.5h0.9v0.9h-0.9zM284.4 333.8h0.9v0.9h-0.9zM267.4 335.2h0.9v0.9h-0.9zM272.4 330.0h0.9v0.9h-0.9zM274.3 334.0h0.9v0.9h-0.9zM277.5 344.3h0.9v0.9h-0.9zM268.8 334.5h0.9v0.9h-0.9zM268.7 328.9h0.9v0.9h-0.9zM274.2 338.8h0.9v0.9h-0.9zM272.4 346.1h0.9v0.9h-0.9zM268.1 335.2h0.9v0.9h-0.9zM274.7 330.4h0.9v0.9h-0.9zM273.7 325.8h0.9v0.9h-0.9zM269.8 335.0h0.9v0.9h-0.9zM270.3 336.5h0.9v0.9h-0.9zM275.4 342.4h0.9v0.9h-0.9zM275.9 332.1h0.9v0.9h-0.9zM271.2 338.0h0.9v0.9h-0.9zM271.8 347.4h0.9v0.9h-0.9zM274.0 333.1h0.9v0.9h-0.9zM270.9 334.9h0.9v0.9h-0.9zM273.0 337.4h0.9v0.9h-0.9zM271.5 332.3h0.9v0.9h-0.9zM273.4 332.9h0.9v0.9h-0.9zM270.3 334.7h0.9v0.9h-0.9zM273.4 333.9h0.9v0.9h-0.9zM275.2 328.9h0.9v0.9h-0.9zM274.2 338.7h0.9v0.9h-0.9zM274.4 334.6h0.9v0.9h-0.9zM271.6 333.0h0.9v0.9h-0.9zM269.0 347.3h0.9v0.9h-0.9zM275.7 338.1h0.9v0.9h-0.9zM277.6 335.8h0.9v0.9h-0.9zM275.2 336.2h0.9v0.9h-0.9zM270.7 323.3h0.9v0.9h-0.9zM276.6 341.9h0.9v0.9h-0.9zM276.4 334.6h0.9v0.9h-0.9zM276.6 340.8h0.9v0.9h-0.9zM278.7 337.7h0.9v0.9h-0.9zM277.9 325.6h0.9v0.9h-0.9zM277.7 340.0h0.9v0.9h-0.9zM270.3 335.2h0.9v0.9h-0.9zM276.2 342.3h0.9v0.9h-0.9zM277.3 342.2h0.9v0.9h-0.9zM274.3 335.5h0.9v0.9h-0.9zM276.2 331.5h0.9v0.9h-0.9zM270.6 339.0h0.9v0.9h-0.9zM273.5 335.5h0.9v0.9h-0.9zM278.4 321.6h0.9v0.9h-0.9zM273.2 339.7h0.9v0.9h-0.9zM273.3 343.4h0.9v0.9h-0.9zM269.7 334.2h0.9v0.9h-0.9zM272.1 332.7h0.9v0.9h-0.9zM269.8 334.6h0.9v0.9h-0.9zM270.6 329.8h0.9v0.9h-0.9zM276.1 335.1h0.9v0.9h-0.9zM269.4 334.9h0.9v0.9h-0.9zM276.0 339.9h0.9v0.9h-0.9zM268.1 340.0h0.8v0.8h-0.8zM281.8 329.9h0.8v0.8h-0.8zM274.6 327.8h0.8v0.8h-0.8zM273.0 356.1h0.8v0.8h-0.8zM287.3 333.4h0.8v0.8h-0.8zM270.9 326.9h0.8v0.8h-0.8zM287.2 353.7h0.8v0.8h-0.8zM262.1 336.5h0.8v0.8h-0.8zM272.7 329.0h0.8v0.8h-0.8zM280.6 350.2h0.8v0.8h-0.8zM271.7 355.7h0.8v0.8h-0.8zM279.0 329.1h0.8v0.8h-0.8zM281.2 325.2h0.8v0.8h-0.8zM273.1 341.3h0.8v0.8h-0.8zM266.2 324.2h0.8v0.8h-0.8zM272.1 351.2h0.8v0.8h-0.8zM266.8 337.4h0.8v0.8h-0.8zM279.0 327.1h0.8v0.8h-0.8zM297.3 370.7h0.9v0.9h-0.9zM319.9 356.1h0.9v0.9h-0.9zM314.7 362.5h0.9v0.9h-0.9zM316.8 368.0h0.9v0.9h-0.9zM329.0 365.0h0.9v0.9h-0.9zM301.2 357.6h0.9v0.9h-0.9zM303.6 358.8h0.9v0.9h-0.9zM320.8 359.4h0.9v0.9h-0.9zM312.9 366.8h0.9v0.9h-0.9zM308.3 373.5h0.9v0.9h-0.9zM288.1 366.1h0.9v0.9h-0.9zM302.9 363.4h0.9v0.9h-0.9zM313.1 361.9h0.9v0.9h-0.9zM303.7 363.6h0.9v0.9h-0.9zM302.5 363.5h0.9v0.9h-0.9zM306.0 356.1h0.9v0.9h-0.9zM331.5 362.9h0.9v0.9h-0.9zM304.9 365.6h0.9v0.9h-0.9zM325.0 372.1h0.9v0.9h-0.9zM320.0 366.7h0.9v0.9h-0.9zM302.3 373.7h0.9v0.9h-0.9zM308.2 363.3h0.9v0.9h-0.9zM300.1 358.0h0.8v0.8h-0.8zM330.0 349.5h0.8v0.8h-0.8zM301.6 369.6h0.8v0.8h-0.8zM293.9 365.8h0.8v0.8h-0.8zM330.8 362.3h0.8v0.8h-0.8zM323.8 365.1h0.8v0.8h-0.8zM332.9 376.5h0.8v0.8h-0.8zM318.7 369.7h0.8v0.8h-0.8zM324.2 372.6h0.8v0.8h-0.8zM309.6 367.6h0.8v0.8h-0.8z" fill="#383838"/>
<polygon points="259.1,318.8 291.5,318.8 291.5,343.2 259.1,360.7" fill="none" stroke="#2a2a2a" stroke-width="1.3"/>
<polygon points="304.3,344.8 339.8,344.8 339.8,379.3 280.8,379.3" fill="none" stroke="#2a2a2a" stroke-width="1.3"/>
<rect x="255.70" y="316.40" width="85.50" height="64.90" fill="none" stroke="#1a1a1a" stroke-width="1.1"/>
<line x1="256.90" y1="381.30" x2="256.90" y2="384.50" stroke="#1a1a1a" stroke-width="1.2" stroke-linecap="butt"/>
<text x="256.30" y="394.30" font-size="8.2" text-anchor="middle" font-weight="normal" fill="#111" stroke="#111" stroke-width="0.3" textLength="13.0" lengthAdjust="spacingAndGlyphs">10<tspan font-size="7.4" dy="-3.6">0</tspan></text>
<line x1="252.30" y1="379.70" x2="255.70" y2="379.70" stroke="#1a1a1a" stroke-width="1.2" stroke-linecap="butt"/>
<text x="248.10" y="379.90" font-size="8.0" text-anchor="middle" font-weight="normal" fill="#111" stroke="#111" stroke-width="0.3" transform="rotate(-90 248.10 379.90)" textLength="13.4" lengthAdjust="spacingAndGlyphs">10<tspan font-size="7.4" dy="-3.6">0</tspan></text>
<line x1="277.60" y1="381.30" x2="277.60" y2="384.50" stroke="#1a1a1a" stroke-width="1.2" stroke-linecap="butt"/>
<text x="277.00" y="394.30" font-size="8.2" text-anchor="middle" font-weight="normal" fill="#111" stroke="#111" stroke-width="0.3" textLength="13.0" lengthAdjust="spacingAndGlyphs">10<tspan font-size="7.4" dy="-3.6">1</tspan></text>
<line x1="252.30" y1="364.15" x2="255.70" y2="364.15" stroke="#1a1a1a" stroke-width="1.2" stroke-linecap="butt"/>
<text x="248.10" y="364.35" font-size="8.0" text-anchor="middle" font-weight="normal" fill="#111" stroke="#111" stroke-width="0.3" transform="rotate(-90 248.10 364.35)" textLength="13.4" lengthAdjust="spacingAndGlyphs">10<tspan font-size="7.4" dy="-3.6">1</tspan></text>
<line x1="298.30" y1="381.30" x2="298.30" y2="384.50" stroke="#1a1a1a" stroke-width="1.2" stroke-linecap="butt"/>
<text x="297.70" y="394.30" font-size="8.2" text-anchor="middle" font-weight="normal" fill="#111" stroke="#111" stroke-width="0.3" textLength="13.0" lengthAdjust="spacingAndGlyphs">10<tspan font-size="7.4" dy="-3.6">2</tspan></text>
<line x1="252.30" y1="348.60" x2="255.70" y2="348.60" stroke="#1a1a1a" stroke-width="1.2" stroke-linecap="butt"/>
<text x="248.10" y="348.80" font-size="8.0" text-anchor="middle" font-weight="normal" fill="#111" stroke="#111" stroke-width="0.3" transform="rotate(-90 248.10 348.80)" textLength="13.4" lengthAdjust="spacingAndGlyphs">10<tspan font-size="7.4" dy="-3.6">2</tspan></text>
<line x1="319.00" y1="381.30" x2="319.00" y2="384.50" stroke="#1a1a1a" stroke-width="1.2" stroke-linecap="butt"/>
<text x="318.40" y="394.30" font-size="8.2" text-anchor="middle" font-weight="normal" fill="#111" stroke="#111" stroke-width="0.3" textLength="13.0" lengthAdjust="spacingAndGlyphs">10<tspan font-size="7.4" dy="-3.6">3</tspan></text>
<line x1="252.30" y1="333.05" x2="255.70" y2="333.05" stroke="#1a1a1a" stroke-width="1.2" stroke-linecap="butt"/>
<text x="248.10" y="333.25" font-size="8.0" text-anchor="middle" font-weight="normal" fill="#111" stroke="#111" stroke-width="0.3" transform="rotate(-90 248.10 333.25)" textLength="13.4" lengthAdjust="spacingAndGlyphs">10<tspan font-size="7.4" dy="-3.6">3</tspan></text>
<line x1="339.70" y1="381.30" x2="339.70" y2="384.50" stroke="#1a1a1a" stroke-width="1.2" stroke-linecap="butt"/>
<text x="339.10" y="394.30" font-size="8.2" text-anchor="middle" font-weight="normal" fill="#111" stroke="#111" stroke-width="0.3" textLength="13.0" lengthAdjust="spacingAndGlyphs">10<tspan font-size="7.4" dy="-3.6">4</tspan></text>
<line x1="252.30" y1="317.50" x2="255.70" y2="317.50" stroke="#1a1a1a" stroke-width="1.2" stroke-linecap="butt"/>
<text x="248.10" y="317.70" font-size="8.0" text-anchor="middle" font-weight="normal" fill="#111" stroke="#111" stroke-width="0.3" transform="rotate(-90 248.10 317.70)" textLength="13.4" lengthAdjust="spacingAndGlyphs">10<tspan font-size="7.4" dy="-3.6">4</tspan></text>
<line x1="263.13" y1="381.30" x2="263.13" y2="383.40" stroke="#1a1a1a" stroke-width="0.8" stroke-linecap="butt"/>
<line x1="253.50" y1="375.02" x2="255.70" y2="375.02" stroke="#1a1a1a" stroke-width="0.8" stroke-linecap="butt"/>
<line x1="266.78" y1="381.30" x2="266.78" y2="383.40" stroke="#1a1a1a" stroke-width="0.8" stroke-linecap="butt"/>
<line x1="253.50" y1="372.28" x2="255.70" y2="372.28" stroke="#1a1a1a" stroke-width="0.8" stroke-linecap="butt"/>
<line x1="269.36" y1="381.30" x2="269.36" y2="383.40" stroke="#1a1a1a" stroke-width="0.8" stroke-linecap="butt"/>
<line x1="253.50" y1="370.34" x2="255.70" y2="370.34" stroke="#1a1a1a" stroke-width="0.8" stroke-linecap="butt"/>
<line x1="271.37" y1="381.30" x2="271.37" y2="383.40" stroke="#1a1a1a" stroke-width="0.8" stroke-linecap="butt"/>
<line x1="253.50" y1="368.83" x2="255.70" y2="368.83" stroke="#1a1a1a" stroke-width="0.8" stroke-linecap="butt"/>
<line x1="273.01" y1="381.30" x2="273.01" y2="383.40" stroke="#1a1a1a" stroke-width="0.8" stroke-linecap="butt"/>
<line x1="253.50" y1="367.60" x2="255.70" y2="367.60" stroke="#1a1a1a" stroke-width="0.8" stroke-linecap="butt"/>
<line x1="274.39" y1="381.30" x2="274.39" y2="383.40" stroke="#1a1a1a" stroke-width="0.8" stroke-linecap="butt"/>
<line x1="253.50" y1="366.56" x2="255.70" y2="366.56" stroke="#1a1a1a" stroke-width="0.8" stroke-linecap="butt"/>
<line x1="275.59" y1="381.30" x2="275.59" y2="383.40" stroke="#1a1a1a" stroke-width="0.8" stroke-linecap="butt"/>
<line x1="253.50" y1="365.66" x2="255.70" y2="365.66" stroke="#1a1a1a" stroke-width="0.8" stroke-linecap="butt"/>
<line x1="276.65" y1="381.30" x2="276.65" y2="383.40" stroke="#1a1a1a" stroke-width="0.8" stroke-linecap="butt"/>
<line x1="253.50" y1="364.86" x2="255.70" y2="364.86" stroke="#1a1a1a" stroke-width="0.8" stroke-linecap="butt"/>
<line x1="283.83" y1="381.30" x2="283.83" y2="383.40" stroke="#1a1a1a" stroke-width="0.8" stroke-linecap="butt"/>
<line x1="253.50" y1="359.47" x2="255.70" y2="359.47" stroke="#1a1a1a" stroke-width="0.8" stroke-linecap="butt"/>
<line x1="287.48" y1="381.30" x2="287.48" y2="383.40" stroke="#1a1a1a" stroke-width="0.8" stroke-linecap="butt"/>
<line x1="253.50" y1="356.73" x2="255.70" y2="356.73" stroke="#1a1a1a" stroke-width="0.8" stroke-linecap="butt"/>
<line x1="290.06" y1="381.30" x2="290.06" y2="383.40" stroke="#1a1a1a" stroke-width="0.8" stroke-linecap="butt"/>
<line x1="253.50" y1="354.79" x2="255.70" y2="354.79" stroke="#1a1a1a" stroke-width="0.8" stroke-linecap="butt"/>
<line x1="292.07" y1="381.30" x2="292.07" y2="383.40" stroke="#1a1a1a" stroke-width="0.8" stroke-linecap="butt"/>
<line x1="253.50" y1="353.28" x2="255.70" y2="353.28" stroke="#1a1a1a" stroke-width="0.8" stroke-linecap="butt"/>
<line x1="293.71" y1="381.30" x2="293.71" y2="383.40" stroke="#1a1a1a" stroke-width="0.8" stroke-linecap="butt"/>
<line x1="253.50" y1="352.05" x2="255.70" y2="352.05" stroke="#1a1a1a" stroke-width="0.8" stroke-linecap="butt"/>
<line x1="295.09" y1="381.30" x2="295.09" y2="383.40" stroke="#1a1a1a" stroke-width="0.8" stroke-linecap="butt"/>
<line x1="253.50" y1="351.01" x2="255.70" y2="351.01" stroke="#1a1a1a" stroke-width="0.8" stroke-linecap="butt"/>
<line x1="296.29" y1="381.30" x2="296.29" y2="383.40" stroke="#1a1a1a" stroke-width="0.8" stroke-linecap="butt"/>
<line x1="253.50" y1="350.11" x2="255.70" y2="350.11" stroke="#1a1a1a" stroke-width="0.8" stroke-linecap="butt"/>
<line x1="297.35" y1="381.30" x2="297.35" y2="383.40" stroke="#1a1a1a" stroke-width="0.8" stroke-linecap="butt"/>
<line x1="253.50" y1="349.31" x2="255.70" y2="349.31" stroke="#1a1a1a" stroke-width="0.8" stroke-linecap="butt"/>
<line x1="304.53" y1="381.30" x2="304.53" y2="383.40" stroke="#1a1a1a" stroke-width="0.8" stroke-linecap="butt"/>
<line x1="253.50" y1="343.92" x2="255.70" y2="343.92" stroke="#1a1a1a" stroke-width="0.8" stroke-linecap="butt"/>
<line x1="308.18" y1="381.30" x2="308.18" y2="383.40" stroke="#1a1a1a" stroke-width="0.8" stroke-linecap="butt"/>
<line x1="253.50" y1="341.18" x2="255.70" y2="341.18" stroke="#1a1a1a" stroke-width="0.8" stroke-linecap="butt"/>
<line x1="310.76" y1="381.30" x2="310.76" y2="383.40" stroke="#1a1a1a" stroke-width="0.8" stroke-linecap="butt"/>
<line x1="253.50" y1="339.24" x2="255.70" y2="339.24" stroke="#1a1a1a" stroke-width="0.8" stroke-linecap="butt"/>
<line x1="312.77" y1="381.30" x2="312.77" y2="383.40" stroke="#1a1a1a" stroke-width="0.8" stroke-linecap="butt"/>
<line x1="253.50" y1="337.73" x2="255.70" y2="337.73" stroke="#1a1a1a" stroke-width="0.8" stroke-linecap="butt"/>
<line x1="314.41" y1="381.30" x2="314.41" y2="383.40" stroke="#1a1a1a" stroke-width="0.8" stroke-linecap="butt"/>
<line x1="253.50" y1="336.50" x2="255.70" y2="336.50" stroke="#1a1a1a" stroke-width="0.8" stroke-linecap="butt"/>
<line x1="315.79" y1="381.30" x2="315.79" y2="383.40" stroke="#1a1a1a" stroke-width="0.8" stroke-linecap="butt"/>
<line x1="253.50" y1="335.46" x2="255.70" y2="335.46" stroke="#1a1a1a" stroke-width="0.8" stroke-linecap="butt"/>
<line x1="316.99" y1="381.30" x2="316.99" y2="383.40" stroke="#1a1a1a" stroke-width="0.8" stroke-linecap="butt"/>
<line x1="253.50" y1="334.56" x2="255.70" y2="334.56" stroke="#1a1a1a" stroke-width="0.8" stroke-linecap="butt"/>
<line x1="318.05" y1="381.30" x2="318.05" y2="383.40" stroke="#1a1a1a" stroke-width="0.8" stroke-linecap="butt"/>
<line x1="253.50" y1="333.76" x2="255.70" y2="333.76" stroke="#1a1a1a" stroke-width="0.8" stroke-linecap="butt"/>
<line x1="325.23" y1="381.30" x2="325.23" y2="383.40" stroke="#1a1a1a" stroke-width="0.8" stroke-linecap="butt"/>
<line x1="253.50" y1="328.37" x2="255.70" y2="328.37" stroke="#1a1a1a" stroke-width="0.8" stroke-linecap="butt"/>
<line x1="328.88" y1="381.30" x2="328.88" y2="383.40" stroke="#1a1a1a" stroke-width="0.8" stroke-linecap="butt"/>
<line x1="253.50" y1="325.63" x2="255.70" y2="325.63" stroke="#1a1a1a" stroke-width="0.8" stroke-linecap="butt"/>
<line x1="331.46" y1="381.30" x2="331.46" y2="383.40" stroke="#1a1a1a" stroke-width="0.8" stroke-linecap="butt"/>
<line x1="253.50" y1="323.69" x2="255.70" y2="323.69" stroke="#1a1a1a" stroke-width="0.8" stroke-linecap="butt"/>
<line x1="333.47" y1="381.30" x2="333.47" y2="383.40" stroke="#1a1a1a" stroke-width="0.8" stroke-linecap="butt"/>
<line x1="253.50" y1="322.18" x2="255.70" y2="322.18" stroke="#1a1a1a" stroke-width="0.8" stroke-linecap="butt"/>
<line x1="335.11" y1="381.30" x2="335.11" y2="383.40" stroke="#1a1a1a" stroke-width="0.8" stroke-linecap="butt"/>
<line x1="253.50" y1="320.95" x2="255.70" y2="320.95" stroke="#1a1a1a" stroke-width="0.8" stroke-linecap="butt"/>
<line x1="336.49" y1="381.30" x2="336.49" y2="383.40" stroke="#1a1a1a" stroke-width="0.8" stroke-linecap="butt"/>
<line x1="253.50" y1="319.91" x2="255.70" y2="319.91" stroke="#1a1a1a" stroke-width="0.8" stroke-linecap="butt"/>
<line x1="337.69" y1="381.30" x2="337.69" y2="383.40" stroke="#1a1a1a" stroke-width="0.8" stroke-linecap="butt"/>
<line x1="253.50" y1="319.01" x2="255.70" y2="319.01" stroke="#1a1a1a" stroke-width="0.8" stroke-linecap="butt"/>
<line x1="338.75" y1="381.30" x2="338.75" y2="383.40" stroke="#1a1a1a" stroke-width="0.8" stroke-linecap="butt"/>
<line x1="253.50" y1="318.21" x2="255.70" y2="318.21" stroke="#1a1a1a" stroke-width="0.8" stroke-linecap="butt"/>
<text x="292.70" y="329.80" font-size="13.6" text-anchor="start" font-weight="normal" fill="#000" stroke="#000" stroke-width="0.3">0.7</text>
<text x="338.10" y="342.20" font-size="13.6" text-anchor="end" font-weight="normal" fill="#000" stroke="#000" stroke-width="0.3">0.3</text>
<polygon points="255.7,459.4 261.7,458.0 268.7,456.0 276.7,452.4 283.7,449.0 290.7,445.4 295.7,442.8 296.9,443.9 294.2,449.9 289.2,458.4 284.7,465.9 280.3,473.4 280.3,474.8 255.7,474.8" fill="#383838"/>
<path d="M285.5 447.6h1.0v1.0h-1.0zM290.6 443.7h1.0v1.0h-1.0zM284.4 447.9h1.0v1.0h-1.0zM286.6 446.0h1.0v1.0h-1.0zM270.1 455.0h1.0v1.0h-1.0zM293.9 435.6h1.0v1.0h-1.0zM292.3 445.0h1.0v1.0h-1.0zM274.2 452.2h1.0v1.0h-1.0zM290.8 443.6h1.0v1.0h-1.0zM257.3 458.5h1.0v1.0h-1.0zM268.1 456.1h1.0v1.0h-1.0zM293.6 444.1h1.0v1.0h-1.0zM282.6 449.7h1.0v1.0h-1.0zM292.7 442.1h1.0v1.0h-1.0zM292.9 443.9h1.0v1.0h-1.0zM279.0 446.8h1.0v1.0h-1.0zM284.3 448.3h1.0v1.0h-1.0zM266.0 455.6h1.0v1.0h-1.0zM258.8 458.4h1.0v1.0h-1.0zM285.4 448.3h1.0v1.0h-1.0zM288.5 447.6h1.0v1.0h-1.0zM260.3 458.6h1.0v1.0h-1.0zM279.2 450.6h1.0v1.0h-1.0zM282.6 448.4h1.0v1.0h-1.0zM270.4 455.1h1.0v1.0h-1.0zM279.8 446.6h1.0v1.0h-1.0zM289.1 445.4h1.0v1.0h-1.0zM272.1 454.6h1.0v1.0h-1.0zM291.3 442.8h1.0v1.0h-1.0zM292.6 441.8h1.0v1.0h-1.0zM294.6 444.0h1.0v1.0h-1.0zM292.7 442.6h1.0v1.0h-1.0zM273.0 455.3h1.0v1.0h-1.0zM270.5 455.0h1.0v1.0h-1.0zM277.8 451.6h1.0v1.0h-1.0zM290.8 444.5h1.0v1.0h-1.0zM291.9 439.1h1.0v1.0h-1.0zM292.8 443.6h1.0v1.0h-1.0zM284.7 442.6h1.0v1.0h-1.0zM286.6 446.7h1.0v1.0h-1.0zM258.9 459.0h1.0v1.0h-1.0zM259.6 457.8h1.0v1.0h-1.0zM260.4 457.1h1.0v1.0h-1.0zM264.2 455.9h1.0v1.0h-1.0zM262.9 457.1h1.0v1.0h-1.0zM273.0 454.7h1.0v1.0h-1.0zM261.3 457.6h1.0v1.0h-1.0zM261.3 455.0h1.0v1.0h-1.0zM288.8 445.9h1.0v1.0h-1.0zM286.3 445.6h1.0v1.0h-1.0zM295.0 443.1h1.0v1.0h-1.0zM269.9 454.9h1.0v1.0h-1.0zM291.4 439.6h1.0v1.0h-1.0zM290.7 443.4h1.0v1.0h-1.0zM285.2 441.7h1.0v1.0h-1.0zM263.5 456.9h1.0v1.0h-1.0zM264.8 455.7h1.0v1.0h-1.0zM283.0 447.5h1.0v1.0h-1.0zM265.3 457.4h1.0v1.0h-1.0zM263.8 456.7h1.0v1.0h-1.0zM289.3 445.8h1.0v1.0h-1.0zM279.9 450.6h1.0v1.0h-1.0zM268.6 453.0h1.0v1.0h-1.0zM281.0 449.8h1.0v1.0h-1.0zM290.7 444.7h1.0v1.0h-1.0zM291.2 443.2h1.0v1.0h-1.0zM282.2 449.5h1.0v1.0h-1.0zM290.6 443.9h1.0v1.0h-1.0zM295.4 441.3h1.0v1.0h-1.0zM282.7 448.9h1.0v1.0h-1.0zM277.6 450.8h1.0v1.0h-1.0zM274.3 453.7h1.0v1.0h-1.0zM267.0 455.9h1.0v1.0h-1.0zM294.6 441.1h1.0v1.0h-1.0zM280.1 451.1h1.0v1.0h-1.0zM268.6 456.5h1.0v1.0h-1.0zM291.3 442.5h1.0v1.0h-1.0zM258.5 458.8h1.0v1.0h-1.0zM279.6 448.6h1.0v1.0h-1.0zM268.1 455.7h1.0v1.0h-1.0zM263.2 455.9h1.0v1.0h-1.0zM260.4 458.4h1.0v1.0h-1.0zM278.6 451.3h1.0v1.0h-1.0zM288.4 443.7h1.0v1.0h-1.0zM267.1 454.9h1.0v1.0h-1.0zM288.9 442.1h1.0v1.0h-1.0zM274.7 450.8h1.0v1.0h-1.0zM287.4 447.9h1.0v1.0h-1.0zM280.9 444.9h1.0v1.0h-1.0zM293.0 441.0h1.0v1.0h-1.0zM260.9 457.2h1.0v1.0h-1.0zM256.9 459.0h1.0v1.0h-1.0zM294.7 443.7h1.0v1.0h-1.0zM283.1 449.5h1.0v1.0h-1.0zM264.9 456.1h1.0v1.0h-1.0zM278.1 450.6h1.0v1.0h-1.0zM262.5 457.1h1.0v1.0h-1.0zM261.6 457.4h1.0v1.0h-1.0zM263.7 457.0h1.0v1.0h-1.0zM263.3 457.9h1.0v1.0h-1.0zM259.6 454.8h1.0v1.0h-1.0zM272.9 453.3h1.0v1.0h-1.0zM269.8 455.0h1.0v1.0h-1.0zM284.8 443.0h1.0v1.0h-1.0zM284.4 448.7h1.0v1.0h-1.0zM261.5 457.4h1.0v1.0h-1.0zM270.3 453.6h1.0v1.0h-1.0zM288.9 445.6h1.0v1.0h-1.0zM279.4 451.0h1.0v1.0h-1.0zM294.8 442.2h1.0v1.0h-1.0zM278.8 451.7h1.0v1.0h-1.0zM277.4 452.5h1.0v1.0h-1.0zM279.8 450.8h1.0v1.0h-1.0zM278.1 451.7h1.0v1.0h-1.0zM283.4 448.8h1.0v1.0h-1.0zM286.6 447.3h1.0v1.0h-1.0zM272.7 452.3h1.0v1.0h-1.0zM264.5 456.4h1.0v1.0h-1.0zM292.2 441.1h1.0v1.0h-1.0zM275.8 451.0h1.0v1.0h-1.0zM260.4 458.5h1.0v1.0h-1.0zM263.6 457.1h1.0v1.0h-1.0zM271.3 454.8h1.0v1.0h-1.0zM289.7 443.1h1.0v1.0h-1.0zM257.6 457.4h1.0v1.0h-1.0zM290.4 445.6h1.0v1.0h-1.0zM267.7 450.6h1.0v1.0h-1.0zM284.7 447.2h1.0v1.0h-1.0zM282.4 447.7h1.0v1.0h-1.0zM272.5 453.6h1.0v1.0h-1.0zM272.8 454.4h1.0v1.0h-1.0zM284.0 446.0h1.0v1.0h-1.0zM273.0 449.7h1.0v1.0h-1.0zM263.3 457.6h1.0v1.0h-1.0zM269.9 455.8h1.0v1.0h-1.0zM261.8 456.8h1.0v1.0h-1.0zM283.7 445.2h1.0v1.0h-1.0zM295.3 443.1h1.0v1.0h-1.0zM286.9 446.9h1.0v1.0h-1.0zM295.7 442.5h1.0v1.0h-1.0zM272.8 452.9h1.0v1.0h-1.0zM285.8 445.6h1.0v1.0h-1.0zM273.3 452.7h1.0v1.0h-1.0zM278.9 449.2h1.0v1.0h-1.0zM272.1 453.5h1.0v1.0h-1.0zM276.3 451.1h1.0v1.0h-1.0zM273.4 453.6h1.0v1.0h-1.0zM296.0 436.6h1.0v1.0h-1.0zM280.2 448.0h1.0v1.0h-1.0zM277.6 451.1h1.0v1.0h-1.0zM274.1 451.9h1.0v1.0h-1.0zM261.3 456.8h1.0v1.0h-1.0zM282.2 448.8h1.0v1.0h-1.0zM272.6 454.1h1.0v1.0h-1.0zM283.6 445.0h1.0v1.0h-1.0zM262.6 457.8h1.0v1.0h-1.0zM290.1 443.6h1.0v1.0h-1.0zM289.4 446.8h1.0v1.0h-1.0zM289.2 446.2h1.0v1.0h-1.0zM278.4 448.8h1.0v1.0h-1.0zM295.0 432.8h1.0v1.0h-1.0zM274.0 453.0h1.0v1.0h-1.0zM267.0 456.6h1.0v1.0h-1.0zM283.2 445.3h1.0v1.0h-1.0zM262.2 457.3h1.0v1.0h-1.0zM295.8 442.8h1.0v1.0h-1.0zM269.1 453.9h1.0v1.0h-1.0zM280.2 450.8h1.0v1.0h-1.0zM285.3 448.4h1.0v1.0h-1.0zM289.3 444.9h1.0v1.0h-1.0zM293.5 443.8h1.0v1.0h-1.0zM288.9 443.2h1.0v1.0h-1.0zM266.5 456.4h1.0v1.0h-1.0zM291.3 442.4h1.0v1.0h-1.0zM280.5 447.4h1.0v1.0h-1.0zM279.3 450.8h1.0v1.0h-1.0zM262.9 457.6h1.0v1.0h-1.0zM260.5 457.6h1.0v1.0h-1.0zM281.9 447.4h1.0v1.0h-1.0zM265.1 457.1h1.0v1.0h-1.0zM274.3 452.8h1.0v1.0h-1.0zM258.9 455.9h1.0v1.0h-1.0zM291.5 443.2h1.0v1.0h-1.0zM287.6 445.9h1.0v1.0h-1.0zM292.1 442.0h1.0v1.0h-1.0zM287.4 437.5h1.0v1.0h-1.0zM268.3 454.9h1.0v1.0h-1.0zM282.0 448.0h1.0v1.0h-1.0zM261.7 458.0h1.0v1.0h-1.0zM269.1 454.8h1.0v1.0h-1.0zM272.9 452.9h1.0v1.0h-1.0zM263.4 457.9h1.0v1.0h-1.0zM265.5 456.5h1.0v1.0h-1.0zM271.8 454.4h1.0v1.0h-1.0zM294.3 442.5h1.0v1.0h-1.0zM271.8 451.5h1.0v1.0h-1.0zM271.1 454.2h1.0v1.0h-1.0zM257.6 459.5h1.0v1.0h-1.0zM286.9 447.5h1.0v1.0h-1.0zM278.6 451.6h1.0v1.0h-1.0zM284.5 447.5h1.0v1.0h-1.0zM288.5 442.1h1.0v1.0h-1.0zM262.2 457.5h1.0v1.0h-1.0zM271.2 454.8h1.0v1.0h-1.0zM273.6 449.6h1.0v1.0h-1.0zM273.4 454.3h1.0v1.0h-1.0zM288.0 445.8h1.0v1.0h-1.0zM278.3 447.1h1.0v1.0h-1.0zM280.2 450.5h1.0v1.0h-1.0zM283.8 448.4h1.0v1.0h-1.0zM281.8 449.6h1.0v1.0h-1.0zM286.7 446.4h1.0v1.0h-1.0zM270.5 454.9h1.0v1.0h-1.0zM291.2 445.0h1.0v1.0h-1.0zM262.0 458.0h1.0v1.0h-1.0zM292.1 443.3h1.0v1.0h-1.0zM282.1 446.2h1.0v1.0h-1.0zM288.4 445.6h1.0v1.0h-1.0zM278.6 451.8h1.0v1.0h-1.0zM269.3 452.9h1.0v1.0h-1.0zM271.7 454.6h1.0v1.0h-1.0zM260.4 458.3h1.0v1.0h-1.0zM280.7 450.1h1.0v1.0h-1.0zM292.1 443.3h1.0v1.0h-1.0zM278.6 451.7h1.0v1.0h-1.0zM273.1 454.5h1.0v1.0h-1.0zM279.9 449.9h1.0v1.0h-1.0zM293.4 443.8h1.0v1.0h-1.0zM278.7 451.6h1.0v1.0h-1.0zM272.9 454.1h1.0v1.0h-1.0zM293.1 440.2h1.0v1.0h-1.0zM265.0 454.6h1.0v1.0h-1.0zM284.3 449.0h1.0v1.0h-1.0zM285.0 447.7h1.0v1.0h-1.0zM267.4 453.9h1.0v1.0h-1.0zM294.0 443.4h1.0v1.0h-1.0zM275.9 451.2h1.0v1.0h-1.0zM294.7 442.8h1.0v1.0h-1.0zM276.1 451.5h1.0v1.0h-1.0zM291.6 443.5h1.0v1.0h-1.0zM294.7 440.7h1.0v1.0h-1.0zM261.2 456.2h1.0v1.0h-1.0zM259.0 457.8h1.0v1.0h-1.0zM288.6 441.9h1.0v1.0h-1.0zM257.9 456.6h1.0v1.0h-1.0zM264.9 456.1h1.0v1.0h-1.0zM281.4 449.9h1.0v1.0h-1.0zM279.2 451.2h1.0v1.0h-1.0zM289.8 444.7h1.0v1.0h-1.0zM276.5 450.8h1.0v1.0h-1.0zM294.1 438.8h1.0v1.0h-1.0zM266.8 456.6h1.0v1.0h-1.0zM270.4 451.6h1.0v1.0h-1.0zM264.3 456.5h1.0v1.0h-1.0zM294.9 438.7h1.0v1.0h-1.0zM266.0 456.0h1.0v1.0h-1.0zM291.9 444.8h1.0v1.0h-1.0zM267.6 456.4h1.0v1.0h-1.0zM263.5 457.2h1.0v1.0h-1.0zM291.9 444.6h1.0v1.0h-1.0zM294.7 443.0h1.0v1.0h-1.0zM279.1 450.2h1.0v1.0h-1.0zM264.0 456.9h1.0v1.0h-1.0zM291.5 445.2h1.0v1.0h-1.0zM293.1 443.8h1.0v1.0h-1.0zM265.0 454.9h1.0v1.0h-1.0zM276.3 449.2h1.0v1.0h-1.0zM285.4 447.7h1.0v1.0h-1.0zM270.5 453.3h1.0v1.0h-1.0zM260.8 458.1h1.0v1.0h-1.0zM262.6 457.2h1.0v1.0h-1.0zM264.1 455.6h1.0v1.0h-1.0zM285.6 446.4h1.0v1.0h-1.0zM269.4 453.4h1.0v1.0h-1.0zM275.1 453.2h1.0v1.0h-1.0zM287.0 446.5h1.0v1.0h-1.0zM269.9 456.1h1.0v1.0h-1.0zM277.8 450.0h1.0v1.0h-1.0zM291.4 440.7h1.0v1.0h-1.0zM277.6 450.1h1.0v1.0h-1.0zM269.3 455.0h1.0v1.0h-1.0zM283.1 448.6h1.0v1.0h-1.0zM295.3 439.6h1.0v1.0h-1.0zM266.8 457.1h1.0v1.0h-1.0zM268.7 455.2h1.0v1.0h-1.0zM289.2 433.2h1.0v1.0h-1.0zM281.0 445.2h1.0v1.0h-1.0zM258.8 458.7h1.0v1.0h-1.0zM269.0 450.0h1.0v1.0h-1.0zM284.9 445.2h1.0v1.0h-1.0zM281.9 449.8h1.0v1.0h-1.0zM282.8 439.6h1.0v1.0h-1.0zM287.7 447.3h1.0v1.0h-1.0zM260.7 455.3h1.0v1.0h-1.0zM276.8 451.5h1.0v1.0h-1.0zM293.3 440.5h1.0v1.0h-1.0zM290.0 442.1h1.0v1.0h-1.0zM260.2 458.4h1.0v1.0h-1.0zM275.2 452.5h1.0v1.0h-1.0zM266.4 455.3h1.0v1.0h-1.0zM286.3 447.8h1.0v1.0h-1.0zM286.6 444.5h1.0v1.0h-1.0zM285.5 447.7h1.0v1.0h-1.0zM295.6 441.3h1.0v1.0h-1.0zM293.5 443.5h1.0v1.0h-1.0zM290.9 445.2h1.0v1.0h-1.0zM290.3 446.4h1.0v1.0h-1.0zM276.2 450.5h1.0v1.0h-1.0zM276.5 452.4h1.0v1.0h-1.0zM277.7 450.3h1.0v1.0h-1.0zM285.2 447.4h1.0v1.0h-1.0zM259.7 457.0h1.0v1.0h-1.0zM273.9 452.2h1.0v1.0h-1.0zM259.9 458.5h1.0v1.0h-1.0zM281.2 450.1h1.0v1.0h-1.0zM288.9 443.4h1.0v1.0h-1.0zM263.8 455.2h1.0v1.0h-1.0zM283.2 447.8h1.0v1.0h-1.0zM287.1 446.2h1.0v1.0h-1.0zM270.7 455.6h1.0v1.0h-1.0zM267.6 455.4h1.0v1.0h-1.0zM282.8 448.2h1.0v1.0h-1.0zM295.3 442.8h1.0v1.0h-1.0zM285.3 444.4h1.0v1.0h-1.0zM278.6 447.0h1.0v1.0h-1.0zM277.4 450.8h1.0v1.0h-1.0zM276.6 452.3h1.0v1.0h-1.0zM293.1 440.7h1.0v1.0h-1.0zM262.7 456.3h1.0v1.0h-1.0zM285.1 446.1h1.0v1.0h-1.0zM264.6 457.3h1.0v1.0h-1.0zM285.9 447.3h1.0v1.0h-1.0zM281.8 448.4h1.0v1.0h-1.0zM270.8 454.0h1.0v1.0h-1.0zM283.9 441.2h1.0v1.0h-1.0zM273.3 452.4h1.0v1.0h-1.0zM266.3 456.2h1.0v1.0h-1.0zM274.4 453.6h1.0v1.0h-1.0zM286.0 445.6h1.0v1.0h-1.0zM277.8 450.4h1.0v1.0h-1.0zM289.9 440.1h1.0v1.0h-1.0zM269.7 455.0h1.0v1.0h-1.0zM286.3 442.2h1.0v1.0h-1.0zM273.3 446.9h1.0v1.0h-1.0zM291.0 445.2h1.0v1.0h-1.0zM258.7 458.7h1.0v1.0h-1.0zM272.0 454.1h1.0v1.0h-1.0zM294.2 443.4h1.0v1.0h-1.0zM292.7 438.0h1.0v1.0h-1.0zM262.3 456.6h1.0v1.0h-1.0zM271.1 453.1h1.0v1.0h-1.0zM272.7 453.4h1.0v1.0h-1.0zM276.6 450.4h1.0v1.0h-1.0zM291.2 444.5h1.0v1.0h-1.0zM293.9 438.2h1.0v1.0h-1.0zM257.4 458.0h1.0v1.0h-1.0zM264.4 457.5h1.0v1.0h-1.0zM295.0 442.8h1.0v1.0h-1.0zM259.4 459.1h1.0v1.0h-1.0zM271.1 454.9h1.0v1.0h-1.0zM259.5 458.0h1.0v1.0h-1.0zM284.1 448.3h1.0v1.0h-1.0zM289.8 439.3h1.0v1.0h-1.0zM265.1 453.7h1.0v1.0h-1.0zM284.2 448.2h1.0v1.0h-1.0zM267.9 456.6h1.0v1.0h-1.0zM260.7 458.4h1.0v1.0h-1.0zM287.5 444.3h1.0v1.0h-1.0zM263.4 456.2h1.0v1.0h-1.0zM260.3 458.3h1.0v1.0h-1.0zM257.2 459.3h1.0v1.0h-1.0zM266.7 456.8h1.0v1.0h-1.0zM295.9 442.7h1.0v1.0h-1.0zM293.7 442.1h1.0v1.0h-1.0zM259.2 456.4h1.0v1.0h-1.0zM288.2 443.4h1.0v1.0h-1.0zM284.0 449.1h1.0v1.0h-1.0zM294.5 455.5h1.0v1.0h-1.0zM286.8 463.7h1.0v1.0h-1.0zM297.2 448.3h1.0v1.0h-1.0zM285.9 463.7h1.0v1.0h-1.0zM284.7 465.2h1.0v1.0h-1.0zM284.3 470.1h1.0v1.0h-1.0zM289.8 456.8h1.0v1.0h-1.0zM288.6 459.1h1.0v1.0h-1.0zM296.1 446.2h1.0v1.0h-1.0zM296.4 445.3h1.0v1.0h-1.0zM295.2 449.3h1.0v1.0h-1.0zM295.3 447.8h1.0v1.0h-1.0zM283.0 468.1h1.0v1.0h-1.0zM296.3 447.1h1.0v1.0h-1.0zM291.3 456.6h1.0v1.0h-1.0zM288.2 459.8h1.0v1.0h-1.0zM288.1 460.5h1.0v1.0h-1.0zM280.4 473.7h1.0v1.0h-1.0zM285.4 465.3h1.0v1.0h-1.0zM296.9 445.4h1.0v1.0h-1.0zM286.8 462.9h1.0v1.0h-1.0zM283.3 467.3h1.0v1.0h-1.0zM280.9 473.4h1.0v1.0h-1.0zM288.0 460.5h1.0v1.0h-1.0zM296.1 450.6h1.0v1.0h-1.0zM296.1 446.7h1.0v1.0h-1.0zM287.9 461.2h1.0v1.0h-1.0zM291.7 457.5h1.0v1.0h-1.0zM286.0 466.5h1.0v1.0h-1.0zM294.1 450.1h1.0v1.0h-1.0zM295.7 446.8h1.0v1.0h-1.0zM286.9 464.8h1.0v1.0h-1.0zM284.7 472.6h1.0v1.0h-1.0zM297.1 444.2h1.0v1.0h-1.0zM290.9 457.9h1.0v1.0h-1.0zM283.4 468.7h1.0v1.0h-1.0zM291.0 458.1h1.0v1.0h-1.0zM289.8 457.7h1.0v1.0h-1.0zM293.2 452.4h1.0v1.0h-1.0zM286.4 463.9h1.0v1.0h-1.0zM291.6 452.9h1.0v1.0h-1.0zM288.2 461.6h1.0v1.0h-1.0zM291.8 454.5h1.0v1.0h-1.0zM284.6 468.1h1.0v1.0h-1.0zM284.5 466.9h1.0v1.0h-1.0zM284.0 466.3h1.0v1.0h-1.0zM287.0 461.6h1.0v1.0h-1.0zM295.1 449.3h1.0v1.0h-1.0zM282.4 472.4h1.0v1.0h-1.0zM285.4 467.3h1.0v1.0h-1.0zM291.3 454.5h1.0v1.0h-1.0zM288.5 461.0h1.0v1.0h-1.0zM282.6 470.4h1.0v1.0h-1.0zM294.1 449.3h1.0v1.0h-1.0zM293.7 450.2h1.0v1.0h-1.0zM289.5 457.6h1.0v1.0h-1.0zM290.1 457.6h1.0v1.0h-1.0zM294.7 451.9h1.0v1.0h-1.0zM287.1 462.0h1.0v1.0h-1.0zM283.8 468.4h1.0v1.0h-1.0zM297.4 446.8h1.0v1.0h-1.0zM291.0 453.8h1.0v1.0h-1.0zM286.9 463.3h1.0v1.0h-1.0zM282.5 471.8h1.0v1.0h-1.0zM286.8 464.7h1.0v1.0h-1.0zM285.2 464.3h1.0v1.0h-1.0zM289.0 459.0h1.0v1.0h-1.0zM296.8 446.6h1.0v1.0h-1.0zM285.8 468.1h1.0v1.0h-1.0zM296.2 447.6h1.0v1.0h-1.0zM298.2 434.8h0.9v0.9h-0.9zM302.4 441.4h0.9v0.9h-0.9zM304.1 438.8h0.9v0.9h-0.9zM300.7 438.7h0.9v0.9h-0.9zM295.1 438.4h0.9v0.9h-0.9zM296.0 438.4h0.9v0.9h-0.9zM300.9 435.8h0.9v0.9h-0.9zM297.4 442.7h0.9v0.9h-0.9zM301.6 440.7h0.9v0.9h-0.9zM299.0 438.3h0.9v0.9h-0.9zM302.0 437.3h0.9v0.9h-0.9zM303.8 439.3h0.9v0.9h-0.9zM295.9 440.6h0.9v0.9h-0.9zM303.5 440.5h0.9v0.9h-0.9zM300.2 437.2h0.9v0.9h-0.9zM299.2 444.6h0.9v0.9h-0.9zM281.0 425.6h0.9v0.9h-0.9zM278.8 427.5h0.9v0.9h-0.9zM271.1 432.0h0.9v0.9h-0.9zM273.4 431.7h0.9v0.9h-0.9zM275.0 437.1h0.9v0.9h-0.9zM270.6 441.7h0.9v0.9h-0.9zM274.5 433.7h0.9v0.9h-0.9zM266.5 434.8h0.9v0.9h-0.9zM273.4 421.9h0.9v0.9h-0.9zM272.9 440.1h0.9v0.9h-0.9zM273.7 419.2h0.9v0.9h-0.9zM275.9 425.1h0.9v0.9h-0.9zM277.3 438.8h0.9v0.9h-0.9zM274.2 435.3h0.9v0.9h-0.9zM276.6 435.4h0.9v0.9h-0.9zM274.9 427.9h0.9v0.9h-0.9zM273.7 433.5h0.9v0.9h-0.9zM279.3 432.3h0.9v0.9h-0.9zM275.2 439.8h0.9v0.9h-0.9zM272.2 435.9h0.9v0.9h-0.9zM279.5 433.5h0.9v0.9h-0.9zM282.3 438.5h0.9v0.9h-0.9zM274.5 423.7h0.9v0.9h-0.9zM271.2 417.6h0.9v0.9h-0.9zM276.9 435.3h0.9v0.9h-0.9zM269.1 441.9h0.9v0.9h-0.9zM279.0 426.3h0.9v0.9h-0.9zM264.5 435.1h0.9v0.9h-0.9zM274.0 432.0h0.9v0.9h-0.9zM281.6 429.8h0.9v0.9h-0.9zM274.9 435.0h0.9v0.9h-0.9zM270.3 429.6h0.9v0.9h-0.9zM271.1 438.2h0.9v0.9h-0.9zM272.8 433.2h0.9v0.9h-0.9zM268.8 437.6h0.9v0.9h-0.9zM274.1 435.3h0.9v0.9h-0.9zM271.2 438.1h0.9v0.9h-0.9zM273.5 432.7h0.9v0.9h-0.9zM270.7 429.6h0.9v0.9h-0.9zM268.2 434.8h0.9v0.9h-0.9zM274.5 432.3h0.9v0.9h-0.9zM275.4 428.5h0.9v0.9h-0.9zM280.1 418.8h0.9v0.9h-0.9zM269.7 430.9h0.9v0.9h-0.9zM272.7 421.7h0.9v0.9h-0.9zM272.7 430.3h0.9v0.9h-0.9zM266.3 440.6h0.9v0.9h-0.9zM272.7 433.3h0.9v0.9h-0.9zM273.8 445.9h0.9v0.9h-0.9zM272.9 420.0h0.9v0.9h-0.9zM276.1 417.1h0.9v0.9h-0.9zM278.2 435.5h0.9v0.9h-0.9zM273.2 429.7h0.9v0.9h-0.9zM279.8 438.7h0.9v0.9h-0.9zM276.3 421.6h0.9v0.9h-0.9zM272.3 418.8h0.8v0.8h-0.8zM282.9 428.5h0.8v0.8h-0.8zM271.0 414.5h0.8v0.8h-0.8zM277.6 427.7h0.8v0.8h-0.8zM268.6 439.1h0.8v0.8h-0.8zM282.6 434.7h0.8v0.8h-0.8zM290.1 436.5h0.8v0.8h-0.8zM274.5 446.5h0.8v0.8h-0.8zM284.1 421.6h0.8v0.8h-0.8zM261.8 429.1h0.8v0.8h-0.8zM270.1 433.0h0.8v0.8h-0.8zM276.2 424.4h0.8v0.8h-0.8zM268.4 437.6h0.8v0.8h-0.8zM287.4 435.0h0.8v0.8h-0.8zM279.4 427.2h0.8v0.8h-0.8zM266.1 432.8h0.8v0.8h-0.8zM289.6 419.2h0.8v0.8h-0.8zM287.0 426.7h0.8v0.8h-0.8zM283.8 424.4h0.8v0.8h-0.8zM283.8 434.7h0.8v0.8h-0.8zM267.7 429.1h0.8v0.8h-0.8zM263.9 441.6h0.8v0.8h-0.8zM325.4 459.4h0.9v0.9h-0.9zM331.1 464.0h0.9v0.9h-0.9zM302.3 448.3h0.9v0.9h-0.9zM312.5 458.6h0.9v0.9h-0.9zM313.7 454.2h0.9v0.9h-0.9zM339.7 447.5h0.9v0.9h-0.9zM317.2 466.0h0.9v0.9h-0.9zM329.0 465.5h0.9v0.9h-0.9zM327.5 456.5h0.9v0.9h-0.9zM319.0 464.1h0.9v0.9h-0.9zM324.9 461.5h0.9v0.9h-0.9zM299.2 459.4h0.9v0.9h-0.9zM324.7 456.3h0.9v0.9h-0.9zM323.1 456.6h0.9v0.9h-0.9zM316.8 451.4h0.9v0.9h-0.9zM306.6 457.9h0.9v0.9h-0.9zM316.1 450.2h0.9v0.9h-0.9zM316.2 461.3h0.9v0.9h-0.9zM307.7 450.7h0.9v0.9h-0.9zM324.3 462.3h0.9v0.9h-0.9zM311.6 460.9h0.9v0.9h-0.9zM293.0 455.9h0.9v0.9h-0.9zM311.7 461.4h0.9v0.9h-0.9zM320.1 455.6h0.9v0.9h-0.9zM321.8 452.1h0.9v0.9h-0.9zM324.0 461.3h0.9v0.9h-0.9zM304.4 459.2h0.9v0.9h-0.9zM313.4 454.1h0.9v0.9h-0.9zM309.3 450.1h0.9v0.9h-0.9zM283.3 451.9h0.9v0.9h-0.9zM308.3 463.6h0.9v0.9h-0.9zM304.2 456.6h0.9v0.9h-0.9zM309.8 453.1h0.9v0.9h-0.9zM306.3 455.9h0.9v0.9h-0.9zM309.6 449.8h0.9v0.9h-0.9zM327.6 458.2h0.9v0.9h-0.9zM296.5 458.2h0.9v0.9h-0.9zM307.5 449.9h0.9v0.9h-0.9zM323.9 458.7h0.9v0.9h-0.9zM298.4 453.4h0.9v0.9h-0.9zM331.4 451.1h0.9v0.9h-0.9zM319.7 459.9h0.9v0.9h-0.9zM315.2 448.8h0.9v0.9h-0.9zM300.1 452.5h0.9v0.9h-0.9zM321.1 464.3h0.9v0.9h-0.9zM309.9 450.9h0.9v0.9h-0.9zM328.6 455.3h0.9v0.9h-0.9zM328.8 455.5h0.9v0.9h-0.9zM325.3 452.2h0.9v0.9h-0.9zM290.3 457.4h0.9v0.9h-0.9zM322.6 458.5h0.9v0.9h-0.9zM306.5 453.8h0.9v0.9h-0.9zM309.4 454.5h0.9v0.9h-0.9zM329.9 452.1h0.9v0.9h-0.9zM311.5 455.4h0.9v0.9h-0.9zM307.9 463.3h0.9v0.9h-0.9zM314.5 455.9h0.9v0.9h-0.9zM312.9 462.6h0.9v0.9h-0.9zM324.9 457.2h0.9v0.9h-0.9zM314.6 454.9h0.9v0.9h-0.9zM312.8 459.1h0.9v0.9h-0.9zM327.2 456.9h0.9v0.9h-0.9zM308.1 456.1h0.9v0.9h-0.9zM303.6 453.1h0.9v0.9h-0.9zM330.7 460.6h0.9v0.9h-0.9zM304.8 472.0h0.9v0.9h-0.9zM326.1 461.9h0.9v0.9h-0.9zM329.9 454.4h0.9v0.9h-0.9zM332.0 461.9h0.9v0.9h-0.9zM319.4 456.4h0.9v0.9h-0.9zM330.0 452.8h0.9v0.9h-0.9zM328.1 445.2h0.9v0.9h-0.9zM328.5 454.7h0.9v0.9h-0.9zM306.4 469.2h0.8v0.8h-0.8zM302.6 471.3h0.8v0.8h-0.8zM334.6 454.6h0.8v0.8h-0.8zM332.0 469.5h0.8v0.8h-0.8zM315.8 452.8h0.8v0.8h-0.8zM323.9 446.4h0.8v0.8h-0.8zM332.4 460.0h0.8v0.8h-0.8zM317.5 461.4h0.8v0.8h-0.8zM310.1 450.5h0.8v0.8h-0.8zM329.0 449.9h0.8v0.8h-0.8zM294.3 444.3h0.8v0.8h-0.8zM309.3 465.6h0.8v0.8h-0.8zM295.6 459.8h0.8v0.8h-0.8zM295.8 453.9h0.8v0.8h-0.8zM294.2 450.1h0.8v0.8h-0.8zM330.3 462.6h0.8v0.8h-0.8zM334.9 465.4h0.8v0.8h-0.8zM290.7 458.7h0.8v0.8h-0.8zM310.4 456.7h0.8v0.8h-0.8zM313.2 451.6h0.8v0.8h-0.8zM334.3 444.9h0.8v0.8h-0.8z" fill="#383838"/>
<polygon points="259.1,412.8 291.5,412.8 291.5,437.2 259.1,454.7" fill="none" stroke="#2a2a2a" stroke-width="1.3"/>
<polygon points="304.3,438.8 339.8,438.8 339.8,473.3 280.8,473.3" fill="none" stroke="#2a2a2a" stroke-width="1.3"/>
<rect x="255.70" y="410.40" width="85.50" height="64.90" fill="none" stroke="#1a1a1a" stroke-width="1.1"/>
<line x1="256.90" y1="475.30" x2="256.90" y2="478.50" stroke="#1a1a1a" stroke-width="1.2" stroke-linecap="butt"/>
<text x="256.30" y="488.30" font-size="8.2" text-anchor="middle" font-weight="normal" fill="#111" stroke="#111" stroke-width="0.3" textLength="13.0" lengthAdjust="spacingAndGlyphs">10<tspan font-size="7.4" dy="-3.6">0</tspan></text>
<line x1="252.30" y1="473.70" x2="255.70" y2="473.70" stroke="#1a1a1a" stroke-width="1.2" stroke-linecap="butt"/>
<text x="248.10" y="473.90" font-size="8.0" text-anchor="middle" font-weight="normal" fill="#111" stroke="#111" stroke-width="0.3" transform="rotate(-90 248.10 473.90)" textLength="13.4" lengthAdjust="spacingAndGlyphs">10<tspan font-size="7.4" dy="-3.6">0</tspan></text>
<line x1="277.60" y1="475.30" x2="277.60" y2="478.50" stroke="#1a1a1a" stroke-width="1.2" stroke-linecap="butt"/>
<text x="277.00" y="488.30" font-size="8.2" text-anchor="middle" font-weight="normal" fill="#111" stroke="#111" stroke-width="0.3" textLength="13.0" lengthAdjust="spacingAndGlyphs">10<tspan font-size="7.4" dy="-3.6">1</tspan></text>
<line x1="252.30" y1="458.15" x2="255.70" y2="458.15" stroke="#1a1a1a" stroke-width="1.2" stroke-linecap="butt"/>
<text x="248.10" y="458.35" font-size="8.0" text-anchor="middle" font-weight="normal" fill="#111" stroke="#111" stroke-width="0.3" transform="rotate(-90 248.10 458.35)" textLength="13.4" lengthAdjust="spacingAndGlyphs">10<tspan font-size="7.4" dy="-3.6">1</tspan></text>
<line x1="298.30" y1="475.30" x2="298.30" y2="478.50" stroke="#1a1a1a" stroke-width="1.2" stroke-linecap="butt"/>
<text x="297.70" y="488.30" font-size="8.2" text-anchor="middle" font-weight="normal" fill="#111" stroke="#111" stroke-width="0.3" textLength="13.0" lengthAdjust="spacingAndGlyphs">10<tspan font-size="7.4" dy="-3.6">2</tspan></text>
<line x1="252.30" y1="442.60" x2="255.70" y2="442.60" stroke="#1a1a1a" stroke-width="1.2" stroke-linecap="butt"/>
<text x="248.10" y="442.80" font-size="8.0" text-anchor="middle" font-weight="normal" fill="#111" stroke="#111" stroke-width="0.3" transform="rotate(-90 248.10 442.80)" textLength="13.4" lengthAdjust="spacingAndGlyphs">10<tspan font-size="7.4" dy="-3.6">2</tspan></text>
<line x1="319.00" y1="475.30" x2="319.00" y2="478.50" stroke="#1a1a1a" stroke-width="1.2" stroke-linecap="butt"/>
<text x="318.40" y="488.30" font-size="8.2" text-anchor="middle" font-weight="normal" fill="#111" stroke="#111" stroke-width="0.3" textLength="13.0" lengthAdjust="spacingAndGlyphs">10<tspan font-size="7.4" dy="-3.6">3</tspan></text>
<line x1="252.30" y1="427.05" x2="255.70" y2="427.05" stroke="#1a1a1a" stroke-width="1.2" stroke-linecap="butt"/>
<text x="248.10" y="427.25" font-size="8.0" text-anchor="middle" font-weight="normal" fill="#111" stroke="#111" stroke-width="0.3" transform="rotate(-90 248.10 427.25)" textLength="13.4" lengthAdjust="spacingAndGlyphs">10<tspan font-size="7.4" dy="-3.6">3</tspan></text>
<line x1="339.70" y1="475.30" x2="339.70" y2="478.50" stroke="#1a1a1a" stroke-width="1.2" stroke-linecap="butt"/>
<text x="339.10" y="488.30" font-size="8.2" text-anchor="middle" font-weight="normal" fill="#111" stroke="#111" stroke-width="0.3" textLength="13.0" lengthAdjust="spacingAndGlyphs">10<tspan font-size="7.4" dy="-3.6">4</tspan></text>
<line x1="252.30" y1="411.50" x2="255.70" y2="411.50" stroke="#1a1a1a" stroke-width="1.2" stroke-linecap="butt"/>
<text x="248.10" y="411.70" font-size="8.0" text-anchor="middle" font-weight="normal" fill="#111" stroke="#111" stroke-width="0.3" transform="rotate(-90 248.10 411.70)" textLength="13.4" lengthAdjust="spacingAndGlyphs">10<tspan font-size="7.4" dy="-3.6">4</tspan></text>
<line x1="263.13" y1="475.30" x2="263.13" y2="477.40" stroke="#1a1a1a" stroke-width="0.8" stroke-linecap="butt"/>
<line x1="253.50" y1="469.02" x2="255.70" y2="469.02" stroke="#1a1a1a" stroke-width="0.8" stroke-linecap="butt"/>
<line x1="266.78" y1="475.30" x2="266.78" y2="477.40" stroke="#1a1a1a" stroke-width="0.8" stroke-linecap="butt"/>
<line x1="253.50" y1="466.28" x2="255.70" y2="466.28" stroke="#1a1a1a" stroke-width="0.8" stroke-linecap="butt"/>
<line x1="269.36" y1="475.30" x2="269.36" y2="477.40" stroke="#1a1a1a" stroke-width="0.8" stroke-linecap="butt"/>
<line x1="253.50" y1="464.34" x2="255.70" y2="464.34" stroke="#1a1a1a" stroke-width="0.8" stroke-linecap="butt"/>
<line x1="271.37" y1="475.30" x2="271.37" y2="477.40" stroke="#1a1a1a" stroke-width="0.8" stroke-linecap="butt"/>
<line x1="253.50" y1="462.83" x2="255.70" y2="462.83" stroke="#1a1a1a" stroke-width="0.8" stroke-linecap="butt"/>
<line x1="273.01" y1="475.30" x2="273.01" y2="477.40" stroke="#1a1a1a" stroke-width="0.8" stroke-linecap="butt"/>
<line x1="253.50" y1="461.60" x2="255.70" y2="461.60" stroke="#1a1a1a" stroke-width="0.8" stroke-linecap="butt"/>
<line x1="274.39" y1="475.30" x2="274.39" y2="477.40" stroke="#1a1a1a" stroke-width="0.8" stroke-linecap="butt"/>
<line x1="253.50" y1="460.56" x2="255.70" y2="460.56" stroke="#1a1a1a" stroke-width="0.8" stroke-linecap="butt"/>
<line x1="275.59" y1="475.30" x2="275.59" y2="477.40" stroke="#1a1a1a" stroke-width="0.8" stroke-linecap="butt"/>
<line x1="253.50" y1="459.66" x2="255.70" y2="459.66" stroke="#1a1a1a" stroke-width="0.8" stroke-linecap="butt"/>
<line x1="276.65" y1="475.30" x2="276.65" y2="477.40" stroke="#1a1a1a" stroke-width="0.8" stroke-linecap="butt"/>
<line x1="253.50" y1="458.86" x2="255.70" y2="458.86" stroke="#1a1a1a" stroke-width="0.8" stroke-linecap="butt"/>
<line x1="283.83" y1="475.30" x2="283.83" y2="477.40" stroke="#1a1a1a" stroke-width="0.8" stroke-linecap="butt"/>
<line x1="253.50" y1="453.47" x2="255.70" y2="453.47" stroke="#1a1a1a" stroke-width="0.8" stroke-linecap="butt"/>
<line x1="287.48" y1="475.30" x2="287.48" y2="477.40" stroke="#1a1a1a" stroke-width="0.8" stroke-linecap="butt"/>
<line x1="253.50" y1="450.73" x2="255.70" y2="450.73" stroke="#1a1a1a" stroke-width="0.8" stroke-linecap="butt"/>
<line x1="290.06" y1="475.30" x2="290.06" y2="477.40" stroke="#1a1a1a" stroke-width="0.8" stroke-linecap="butt"/>
<line x1="253.50" y1="448.79" x2="255.70" y2="448.79" stroke="#1a1a1a" stroke-width="0.8" stroke-linecap="butt"/>
<line x1="292.07" y1="475.30" x2="292.07" y2="477.40" stroke="#1a1a1a" stroke-width="0.8" stroke-linecap="butt"/>
<line x1="253.50" y1="447.28" x2="255.70" y2="447.28" stroke="#1a1a1a" stroke-width="0.8" stroke-linecap="butt"/>
<line x1="293.71" y1="475.30" x2="293.71" y2="477.40" stroke="#1a1a1a" stroke-width="0.8" stroke-linecap="butt"/>
<line x1="253.50" y1="446.05" x2="255.70" y2="446.05" stroke="#1a1a1a" stroke-width="0.8" stroke-linecap="butt"/>
<line x1="295.09" y1="475.30" x2="295.09" y2="477.40" stroke="#1a1a1a" stroke-width="0.8" stroke-linecap="butt"/>
<line x1="253.50" y1="445.01" x2="255.70" y2="445.01" stroke="#1a1a1a" stroke-width="0.8" stroke-linecap="butt"/>
<line x1="296.29" y1="475.30" x2="296.29" y2="477.40" stroke="#1a1a1a" stroke-width="0.8" stroke-linecap="butt"/>
<line x1="253.50" y1="444.11" x2="255.70" y2="444.11" stroke="#1a1a1a" stroke-width="0.8" stroke-linecap="butt"/>
<line x1="297.35" y1="475.30" x2="297.35" y2="477.40" stroke="#1a1a1a" stroke-width="0.8" stroke-linecap="butt"/>
<line x1="253.50" y1="443.31" x2="255.70" y2="443.31" stroke="#1a1a1a" stroke-width="0.8" stroke-linecap="butt"/>
<line x1="304.53" y1="475.30" x2="304.53" y2="477.40" stroke="#1a1a1a" stroke-width="0.8" stroke-linecap="butt"/>
<line x1="253.50" y1="437.92" x2="255.70" y2="437.92" stroke="#1a1a1a" stroke-width="0.8" stroke-linecap="butt"/>
<line x1="308.18" y1="475.30" x2="308.18" y2="477.40" stroke="#1a1a1a" stroke-width="0.8" stroke-linecap="butt"/>
<line x1="253.50" y1="435.18" x2="255.70" y2="435.18" stroke="#1a1a1a" stroke-width="0.8" stroke-linecap="butt"/>
<line x1="310.76" y1="475.30" x2="310.76" y2="477.40" stroke="#1a1a1a" stroke-width="0.8" stroke-linecap="butt"/>
<line x1="253.50" y1="433.24" x2="255.70" y2="433.24" stroke="#1a1a1a" stroke-width="0.8" stroke-linecap="butt"/>
<line x1="312.77" y1="475.30" x2="312.77" y2="477.40" stroke="#1a1a1a" stroke-width="0.8" stroke-linecap="butt"/>
<line x1="253.50" y1="431.73" x2="255.70" y2="431.73" stroke="#1a1a1a" stroke-width="0.8" stroke-linecap="butt"/>
<line x1="314.41" y1="475.30" x2="314.41" y2="477.40" stroke="#1a1a1a" stroke-width="0.8" stroke-linecap="butt"/>
<line x1="253.50" y1="430.50" x2="255.70" y2="430.50" stroke="#1a1a1a" stroke-width="0.8" stroke-linecap="butt"/>
<line x1="315.79" y1="475.30" x2="315.79" y2="477.40" stroke="#1a1a1a" stroke-width="0.8" stroke-linecap="butt"/>
<line x1="253.50" y1="429.46" x2="255.70" y2="429.46" stroke="#1a1a1a" stroke-width="0.8" stroke-linecap="butt"/>
<line x1="316.99" y1="475.30" x2="316.99" y2="477.40" stroke="#1a1a1a" stroke-width="0.8" stroke-linecap="butt"/>
<line x1="253.50" y1="428.56" x2="255.70" y2="428.56" stroke="#1a1a1a" stroke-width="0.8" stroke-linecap="butt"/>
<line x1="318.05" y1="475.30" x2="318.05" y2="477.40" stroke="#1a1a1a" stroke-width="0.8" stroke-linecap="butt"/>
<line x1="253.50" y1="427.76" x2="255.70" y2="427.76" stroke="#1a1a1a" stroke-width="0.8" stroke-linecap="butt"/>
<line x1="325.23" y1="475.30" x2="325.23" y2="477.40" stroke="#1a1a1a" stroke-width="0.8" stroke-linecap="butt"/>
<line x1="253.50" y1="422.37" x2="255.70" y2="422.37" stroke="#1a1a1a" stroke-width="0.8" stroke-linecap="butt"/>
<line x1="328.88" y1="475.30" x2="328.88" y2="477.40" stroke="#1a1a1a" stroke-width="0.8" stroke-linecap="butt"/>
<line x1="253.50" y1="419.63" x2="255.70" y2="419.63" stroke="#1a1a1a" stroke-width="0.8" stroke-linecap="butt"/>
<line x1="331.46" y1="475.30" x2="331.46" y2="477.40" stroke="#1a1a1a" stroke-width="0.8" stroke-linecap="butt"/>
<line x1="253.50" y1="417.69" x2="255.70" y2="417.69" stroke="#1a1a1a" stroke-width="0.8" stroke-linecap="butt"/>
<line x1="333.47" y1="475.30" x2="333.47" y2="477.40" stroke="#1a1a1a" stroke-width="0.8" stroke-linecap="butt"/>
<line x1="253.50" y1="416.18" x2="255.70" y2="416.18" stroke="#1a1a1a" stroke-width="0.8" stroke-linecap="butt"/>
<line x1="335.11" y1="475.30" x2="335.11" y2="477.40" stroke="#1a1a1a" stroke-width="0.8" stroke-linecap="butt"/>
<line x1="253.50" y1="414.95" x2="255.70" y2="414.95" stroke="#1a1a1a" stroke-width="0.8" stroke-linecap="butt"/>
<line x1="336.49" y1="475.30" x2="336.49" y2="477.40" stroke="#1a1a1a" stroke-width="0.8" stroke-linecap="butt"/>
<line x1="253.50" y1="413.91" x2="255.70" y2="413.91" stroke="#1a1a1a" stroke-width="0.8" stroke-linecap="butt"/>
<line x1="337.69" y1="475.30" x2="337.69" y2="477.40" stroke="#1a1a1a" stroke-width="0.8" stroke-linecap="butt"/>
<line x1="253.50" y1="413.01" x2="255.70" y2="413.01" stroke="#1a1a1a" stroke-width="0.8" stroke-linecap="butt"/>
<line x1="338.75" y1="475.30" x2="338.75" y2="477.40" stroke="#1a1a1a" stroke-width="0.8" stroke-linecap="butt"/>
<line x1="253.50" y1="412.21" x2="255.70" y2="412.21" stroke="#1a1a1a" stroke-width="0.8" stroke-linecap="butt"/>
<text x="292.70" y="423.80" font-size="13.6" text-anchor="start" font-weight="normal" fill="#000" stroke="#000" stroke-width="0.3">1</text>
<text x="338.10" y="436.20" font-size="13.6" text-anchor="end" font-weight="normal" fill="#000" stroke="#000" stroke-width="0.3">0.6</text>
<text x="219.40" y="254.00" font-size="14.8" text-anchor="middle" font-weight="normal" fill="#000" stroke="#000" stroke-width="0.3" transform="rotate(-90 219.40 254.00)">WT</text>
<text x="219.40" y="347.00" font-size="14.8" text-anchor="middle" font-weight="normal" fill="#000" stroke="#000" stroke-width="0.3" transform="rotate(-90 219.40 347.00)">H-ras KO</text>
<text x="219.40" y="441.50" font-size="14.8" text-anchor="middle" font-weight="normal" fill="#000" stroke="#000" stroke-width="0.3" transform="rotate(-90 219.40 441.50)">N-ras KO</text>
<text x="231.40" y="465.00" font-size="14.5" text-anchor="middle" font-weight="normal" fill="#000" stroke="#000" stroke-width="0.3" transform="rotate(-90 231.40 465.00)">IL-4</text>
<line x1="228.30" y1="342.50" x2="228.30" y2="438.00" stroke="#000" stroke-width="2.0" stroke-linecap="butt"/>
<polygon points="228.3,338.6 225.4,344.6 228.3,343.2 231.2,344.6" fill="#000"/>
<text x="255.60" y="506.40" font-size="14.2" text-anchor="start" font-weight="normal" fill="#000" stroke="#000" stroke-width="0.3">IFN-γ</text>
<line x1="293.20" y1="502.10" x2="331.50" y2="502.10" stroke="#000" stroke-width="2.0" stroke-linecap="butt"/>
<polygon points="335.2,502.1 329.2,499.1 330.6,502.1 329.2,505.1" fill="#000"/>
<text x="359.80" y="221.10" font-size="18.5" text-anchor="start" font-weight="normal" fill="#000" stroke="#000" stroke-width="0.35">D</text>
<line x1="411.90" y1="243.00" x2="411.90" y2="399.60" stroke="#999" stroke-width="1.5" stroke-linecap="butt"/>
<line x1="411.20" y1="399.60" x2="507.80" y2="399.60" stroke="#999" stroke-width="1.4" stroke-linecap="butt"/>
<line x1="408.10" y1="354.95" x2="411.90" y2="354.95" stroke="#666" stroke-width="1.1" stroke-linecap="butt"/>
<text x="407.70" y="359.85" font-size="13.6" text-anchor="end" font-weight="normal" fill="#000" stroke="#000" stroke-width="0.3">400</text>
<line x1="408.10" y1="310.30" x2="411.90" y2="310.30" stroke="#666" stroke-width="1.1" stroke-linecap="butt"/>
<text x="407.70" y="315.20" font-size="13.6" text-anchor="end" font-weight="normal" fill="#000" stroke="#000" stroke-width="0.3">800</text>
<line x1="408.10" y1="265.65" x2="411.90" y2="265.65" stroke="#666" stroke-width="1.1" stroke-linecap="butt"/>
<text x="407.70" y="270.55" font-size="13.6" text-anchor="end" font-weight="normal" fill="#000" stroke="#000" stroke-width="0.3">1200</text>
<line x1="409.70" y1="377.28" x2="411.90" y2="377.28" stroke="#999" stroke-width="0.9" stroke-linecap="butt"/>
<line x1="409.70" y1="332.62" x2="411.90" y2="332.62" stroke="#999" stroke-width="0.9" stroke-linecap="butt"/>
<line x1="409.70" y1="287.98" x2="411.90" y2="287.98" stroke="#999" stroke-width="0.9" stroke-linecap="butt"/>
<line x1="409.70" y1="243.33" x2="411.90" y2="243.33" stroke="#999" stroke-width="0.9" stroke-linecap="butt"/>
<line x1="443.80" y1="399.60" x2="443.80" y2="401.60" stroke="#999" stroke-width="0.9" stroke-linecap="butt"/>
<line x1="475.80" y1="399.60" x2="475.80" y2="401.60" stroke="#999" stroke-width="0.9" stroke-linecap="butt"/>
<line x1="507.50" y1="399.60" x2="507.50" y2="401.60" stroke="#999" stroke-width="0.9" stroke-linecap="butt"/>
<text x="373.60" y="313.40" font-size="14.2" text-anchor="middle" font-weight="normal" fill="#000" stroke="#000" stroke-width="0.3" transform="rotate(-90 373.60 313.40)">IL-17<tspan dx="1">(pg ml</tspan><tspan font-size="8.5" dy="-4">−1</tspan><tspan dy="4">)</tspan></text>
<line x1="422.40" y1="390.60" x2="422.40" y2="388.20" stroke="#000" stroke-width="1.7" stroke-linecap="butt"/>
<line x1="417.60" y1="388.20" x2="427.40" y2="388.20" stroke="#000" stroke-width="1.6" stroke-linecap="butt"/>
<line x1="431.85" y1="370.30" x2="431.85" y2="353.00" stroke="#000" stroke-width="1.7" stroke-linecap="butt"/>
<line x1="425.80" y1="353.00" x2="437.60" y2="353.00" stroke="#000" stroke-width="1.6" stroke-linecap="butt"/>
<line x1="454.35" y1="385.60" x2="454.35" y2="380.70" stroke="#000" stroke-width="1.7" stroke-linecap="butt"/>
<line x1="449.90" y1="380.70" x2="459.60" y2="380.70" stroke="#000" stroke-width="1.6" stroke-linecap="butt"/>
<line x1="463.70" y1="383.20" x2="463.70" y2="370.50" stroke="#000" stroke-width="1.7" stroke-linecap="butt"/>
<line x1="458.00" y1="370.50" x2="469.80" y2="370.50" stroke="#000" stroke-width="1.6" stroke-linecap="butt"/>
<line x1="486.80" y1="291.40" x2="486.80" y2="265.50" stroke="#000" stroke-width="1.7" stroke-linecap="butt"/>
<line x1="481.80" y1="265.50" x2="492.60" y2="265.50" stroke="#000" stroke-width="1.6" stroke-linecap="butt"/>
<line x1="496.00" y1="343.60" x2="496.00" y2="329.20" stroke="#000" stroke-width="1.7" stroke-linecap="butt"/>
<line x1="491.40" y1="329.20" x2="501.60" y2="329.20" stroke="#000" stroke-width="1.6" stroke-linecap="butt"/>
<rect x="417.95" y="391.35" width="8.90" height="8.10" fill="#fff" stroke="#000" stroke-width="1.5"/>
<rect x="427.40" y="370.30" width="8.90" height="29.90" fill="#000" stroke="none" stroke-width="0"/>
<rect x="450.45" y="386.35" width="7.80" height="13.10" fill="#fff" stroke="#000" stroke-width="1.5"/>
<rect x="459.00" y="383.20" width="9.40" height="17.00" fill="#000" stroke="none" stroke-width="0"/>
<rect x="482.75" y="292.15" width="8.10" height="107.30" fill="#fff" stroke="#000" stroke-width="1.5"/>
<rect x="491.60" y="343.60" width="8.80" height="56.60" fill="#000" stroke="none" stroke-width="0"/>
<text x="486.40" y="268.00" font-size="16" text-anchor="middle" font-weight="normal" fill="#000" stroke="#000" stroke-width="0.3">*</text>
<rect x="424.50" y="260.60" width="9.40" height="9.40" fill="#fff" stroke="#000" stroke-width="1.6"/>
<rect x="423.70" y="274.80" width="11.00" height="11.10" fill="#000" stroke="none" stroke-width="0"/>
<text x="437.00" y="269.20" font-size="14.1" text-anchor="start" font-weight="normal" fill="#000" stroke="#000" stroke-width="0.3">wk 1</text>
<text x="437.00" y="285.00" font-size="14.1" text-anchor="start" font-weight="normal" fill="#000" stroke="#000" stroke-width="0.3">wk 3</text>
<text x="436.80" y="411.60" font-size="14.2" text-anchor="end" font-weight="normal" fill="#000" stroke="#000" stroke-width="0.3" transform="rotate(-45 436.80 411.60)">WT</text>
<text x="469.00" y="410.20" font-size="14.2" text-anchor="end" font-weight="normal" fill="#000" stroke="#000" stroke-width="0.3" transform="rotate(-45 469.00 410.20)">H-ras KO</text>
<text x="497.00" y="410.20" font-size="14.2" text-anchor="end" font-weight="normal" fill="#000" stroke="#000" stroke-width="0.3" transform="rotate(-45 497.00 410.20)">N-ras KO</text>
</svg>
</body></html>
